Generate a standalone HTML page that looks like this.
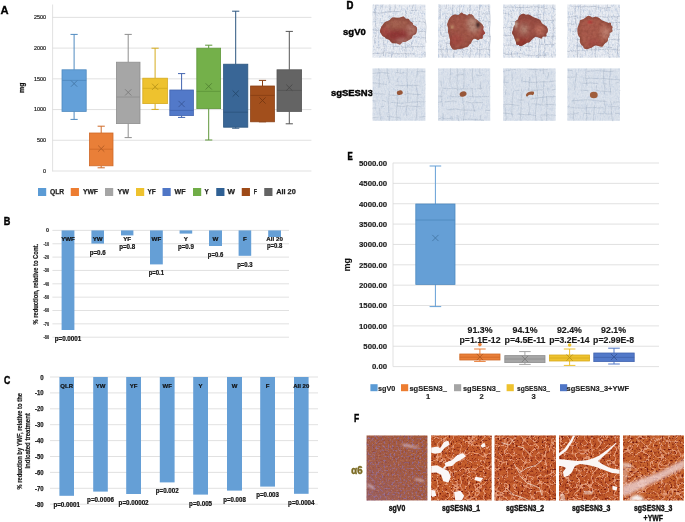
<!DOCTYPE html>
<html><head><meta charset="utf-8"><style>
html,body{margin:0;padding:0;background:#fff;}
body{width:685px;height:522px;overflow:hidden;}
svg{display:block;font-family:"Liberation Sans", sans-serif;opacity:0.999;}
</style></head><body>
<svg width="685" height="522" viewBox="0 0 685 522">
<rect width="685" height="522" fill="#fff"/>
<text x="0.40" y="14.41" font-size="11.2" text-anchor="start" font-weight="bold" fill="#000" stroke="#000" stroke-width="0.3" >A</text>
<line x1="52.60" y1="4.50" x2="52.60" y2="171.50" stroke="#d9d9d9" stroke-width="0.8" />
<line x1="52.60" y1="171.00" x2="311.40" y2="171.00" stroke="#d9d9d9" stroke-width="0.8" />
<text x="46.00" y="172.93" font-size="5.4" text-anchor="end" font-weight="normal" fill="#1a1a1a" stroke="#1a1a1a" stroke-width="0.2" >0</text>
<line x1="52.60" y1="140.28" x2="311.40" y2="140.28" stroke="#d9d9d9" stroke-width="0.8" />
<text x="46.00" y="142.21" font-size="5.4" text-anchor="end" font-weight="normal" fill="#1a1a1a" stroke="#1a1a1a" stroke-width="0.2" >500</text>
<line x1="52.60" y1="109.56" x2="311.40" y2="109.56" stroke="#d9d9d9" stroke-width="0.8" />
<text x="46.00" y="111.49" font-size="5.4" text-anchor="end" font-weight="normal" fill="#1a1a1a" stroke="#1a1a1a" stroke-width="0.2" >1000</text>
<line x1="52.60" y1="78.84" x2="311.40" y2="78.84" stroke="#d9d9d9" stroke-width="0.8" />
<text x="46.00" y="80.77" font-size="5.4" text-anchor="end" font-weight="normal" fill="#1a1a1a" stroke="#1a1a1a" stroke-width="0.2" >1500</text>
<line x1="52.60" y1="48.12" x2="311.40" y2="48.12" stroke="#d9d9d9" stroke-width="0.8" />
<text x="46.00" y="50.05" font-size="5.4" text-anchor="end" font-weight="normal" fill="#1a1a1a" stroke="#1a1a1a" stroke-width="0.2" >2000</text>
<line x1="52.60" y1="17.40" x2="311.40" y2="17.40" stroke="#d9d9d9" stroke-width="0.8" />
<text x="46.00" y="19.33" font-size="5.4" text-anchor="end" font-weight="normal" fill="#1a1a1a" stroke="#1a1a1a" stroke-width="0.2" >2500</text>
<text x="21.80" y="90.38" font-size="7.2" text-anchor="middle" font-weight="bold" fill="#111" textLength="10.4" lengthAdjust="spacingAndGlyphs" transform="rotate(-90 21.80 87.80)" stroke="#111" stroke-width="0.25" >mg</text>
<line x1="74.10" y1="34.40" x2="74.10" y2="69.80" stroke="#4f8ac0" stroke-width="1" />
<line x1="74.10" y1="111.40" x2="74.10" y2="119.40" stroke="#4f8ac0" stroke-width="1" />
<line x1="70.50" y1="34.40" x2="77.70" y2="34.40" stroke="#4f8ac0" stroke-width="1" />
<line x1="70.50" y1="119.40" x2="77.70" y2="119.40" stroke="#4f8ac0" stroke-width="1" />
<rect x="62.00" y="69.80" width="24.20" height="41.60" fill="#63a0d9" stroke="#4f8ac0" stroke-width="0.8"/>
<line x1="62.00" y1="80.40" x2="86.20" y2="80.40" stroke="#4f8ac0" stroke-width="0.9" />
<path d="M71.00 80.50L77.20 86.70M77.20 80.50L71.00 86.70" stroke="#4375a3" stroke-width="0.85" fill="none"/>
<line x1="101.20" y1="126.20" x2="101.20" y2="133.00" stroke="#cf6a28" stroke-width="1" />
<line x1="101.20" y1="165.80" x2="101.20" y2="167.80" stroke="#cf6a28" stroke-width="1" />
<line x1="97.60" y1="126.20" x2="104.80" y2="126.20" stroke="#cf6a28" stroke-width="1" />
<line x1="97.60" y1="167.80" x2="104.80" y2="167.80" stroke="#cf6a28" stroke-width="1" />
<rect x="89.40" y="133.00" width="23.60" height="32.80" fill="#e97f38" stroke="#cf6a28" stroke-width="0.8"/>
<line x1="89.40" y1="149.20" x2="113.00" y2="149.20" stroke="#cf6a28" stroke-width="0.9" />
<path d="M98.10 145.50L104.30 151.70M104.30 145.50L98.10 151.70" stroke="#af5a22" stroke-width="0.85" fill="none"/>
<line x1="128.20" y1="34.40" x2="128.20" y2="62.20" stroke="#8f8f8f" stroke-width="1" />
<line x1="128.20" y1="123.60" x2="128.20" y2="137.60" stroke="#8f8f8f" stroke-width="1" />
<line x1="124.60" y1="34.40" x2="131.80" y2="34.40" stroke="#8f8f8f" stroke-width="1" />
<line x1="124.60" y1="137.60" x2="131.80" y2="137.60" stroke="#8f8f8f" stroke-width="1" />
<rect x="116.40" y="62.20" width="23.60" height="61.40" fill="#a6a6a6" stroke="#8f8f8f" stroke-width="0.8"/>
<line x1="116.40" y1="97.00" x2="140.00" y2="97.00" stroke="#8f8f8f" stroke-width="0.9" />
<path d="M125.10 89.30L131.30 95.50M131.30 89.30L125.10 95.50" stroke="#797979" stroke-width="0.85" fill="none"/>
<line x1="155.10" y1="48.20" x2="155.10" y2="78.20" stroke="#d6ab1e" stroke-width="1" />
<line x1="155.10" y1="103.60" x2="155.10" y2="109.40" stroke="#d6ab1e" stroke-width="1" />
<line x1="151.50" y1="48.20" x2="158.70" y2="48.20" stroke="#d6ab1e" stroke-width="1" />
<line x1="151.50" y1="109.40" x2="158.70" y2="109.40" stroke="#d6ab1e" stroke-width="1" />
<rect x="142.80" y="78.20" width="24.60" height="25.40" fill="#eec22e" stroke="#d6ab1e" stroke-width="0.8"/>
<line x1="142.80" y1="88.30" x2="167.40" y2="88.30" stroke="#d6ab1e" stroke-width="0.9" />
<path d="M152.00 83.70L158.20 89.90M158.20 83.70L152.00 89.90" stroke="#b59119" stroke-width="0.85" fill="none"/>
<line x1="181.60" y1="73.60" x2="181.60" y2="90.00" stroke="#4365b0" stroke-width="1" />
<line x1="181.60" y1="115.60" x2="181.60" y2="117.40" stroke="#4365b0" stroke-width="1" />
<line x1="178.00" y1="73.60" x2="185.20" y2="73.60" stroke="#4365b0" stroke-width="1" />
<line x1="178.00" y1="117.40" x2="185.20" y2="117.40" stroke="#4365b0" stroke-width="1" />
<rect x="169.80" y="90.00" width="23.60" height="25.60" fill="#5279c9" stroke="#4365b0" stroke-width="0.8"/>
<line x1="169.80" y1="110.40" x2="193.40" y2="110.40" stroke="#4365b0" stroke-width="0.9" />
<path d="M178.50 100.90L184.70 107.10M184.70 100.90L178.50 107.10" stroke="#385595" stroke-width="0.85" fill="none"/>
<line x1="208.70" y1="45.20" x2="208.70" y2="48.20" stroke="#5f973a" stroke-width="1" />
<line x1="208.70" y1="108.60" x2="208.70" y2="140.00" stroke="#5f973a" stroke-width="1" />
<line x1="205.10" y1="45.20" x2="212.30" y2="45.20" stroke="#5f973a" stroke-width="1" />
<line x1="205.10" y1="140.00" x2="212.30" y2="140.00" stroke="#5f973a" stroke-width="1" />
<rect x="196.80" y="48.20" width="23.80" height="60.40" fill="#74b04a" stroke="#5f973a" stroke-width="0.8"/>
<line x1="196.80" y1="91.40" x2="220.60" y2="91.40" stroke="#5f973a" stroke-width="0.9" />
<path d="M205.60 83.30L211.80 89.50M211.80 83.30L205.60 89.50" stroke="#508031" stroke-width="0.85" fill="none"/>
<line x1="235.70" y1="11.20" x2="235.70" y2="64.20" stroke="#2c557f" stroke-width="1" />
<line x1="235.70" y1="127.20" x2="235.70" y2="128.20" stroke="#2c557f" stroke-width="1" />
<line x1="232.10" y1="11.20" x2="239.30" y2="11.20" stroke="#2c557f" stroke-width="1" />
<line x1="232.10" y1="128.20" x2="239.30" y2="128.20" stroke="#2c557f" stroke-width="1" />
<rect x="223.60" y="64.20" width="24.20" height="63.00" fill="#396696" stroke="#2c557f" stroke-width="0.8"/>
<line x1="223.60" y1="112.20" x2="247.80" y2="112.20" stroke="#2c557f" stroke-width="0.9" />
<path d="M232.60 90.50L238.80 96.70M238.80 90.50L232.60 96.70" stroke="#25486b" stroke-width="0.85" fill="none"/>
<line x1="262.50" y1="80.40" x2="262.50" y2="86.00" stroke="#8a4014" stroke-width="1" />
<line x1="262.50" y1="121.80" x2="262.50" y2="121.80" stroke="#8a4014" stroke-width="1" />
<line x1="258.90" y1="80.40" x2="266.10" y2="80.40" stroke="#8a4014" stroke-width="1" />
<line x1="258.90" y1="121.80" x2="266.10" y2="121.80" stroke="#8a4014" stroke-width="1" />
<rect x="250.60" y="86.00" width="23.80" height="35.80" fill="#a24f1c" stroke="#8a4014" stroke-width="0.8"/>
<line x1="250.60" y1="95.40" x2="274.40" y2="95.40" stroke="#8a4014" stroke-width="0.9" />
<path d="M259.40 97.40L265.60 103.60M265.60 97.40L259.40 103.60" stroke="#753611" stroke-width="0.85" fill="none"/>
<line x1="289.30" y1="31.40" x2="289.30" y2="69.80" stroke="#555555" stroke-width="1" />
<line x1="289.30" y1="111.40" x2="289.30" y2="123.80" stroke="#555555" stroke-width="1" />
<line x1="285.70" y1="31.40" x2="292.90" y2="31.40" stroke="#555555" stroke-width="1" />
<line x1="285.70" y1="123.80" x2="292.90" y2="123.80" stroke="#555555" stroke-width="1" />
<rect x="277.00" y="69.80" width="24.60" height="41.60" fill="#646464" stroke="#555555" stroke-width="0.8"/>
<line x1="277.00" y1="90.40" x2="301.60" y2="90.40" stroke="#555555" stroke-width="0.9" />
<path d="M286.20 84.50L292.40 90.70M292.40 84.50L286.20 90.70" stroke="#484848" stroke-width="0.85" fill="none"/>
<rect x="38.00" y="188.00" width="8.20" height="8.00" fill="#5b9bd5" />
<text x="50.00" y="194.42" font-size="7.6" text-anchor="start" font-weight="bold" fill="#222" textLength="14.25" lengthAdjust="spacingAndGlyphs" stroke="#222" stroke-width="0.25" >QLR</text>
<rect x="70.75" y="188.00" width="8.20" height="8.00" fill="#ed7d31" />
<text x="83.00" y="194.42" font-size="7.6" text-anchor="start" font-weight="bold" fill="#222" textLength="15" lengthAdjust="spacingAndGlyphs" stroke="#222" stroke-width="0.25" >YWF</text>
<rect x="105.00" y="188.00" width="8.20" height="8.00" fill="#a5a5a5" />
<text x="117.50" y="194.42" font-size="7.6" text-anchor="start" font-weight="bold" fill="#222" textLength="11.5" lengthAdjust="spacingAndGlyphs" stroke="#222" stroke-width="0.25" >YW</text>
<rect x="136.00" y="188.00" width="8.20" height="8.00" fill="#eec22e" />
<text x="147.50" y="194.42" font-size="7.6" text-anchor="start" font-weight="bold" fill="#222" textLength="8.25" lengthAdjust="spacingAndGlyphs" stroke="#222" stroke-width="0.25" >YF</text>
<rect x="162.50" y="188.00" width="8.20" height="8.00" fill="#4f76c6" />
<text x="174.50" y="194.42" font-size="7.6" text-anchor="start" font-weight="bold" fill="#222" textLength="11" lengthAdjust="spacingAndGlyphs" stroke="#222" stroke-width="0.25" >WF</text>
<rect x="193.00" y="188.00" width="8.20" height="8.00" fill="#70ad47" />
<text x="204.50" y="194.42" font-size="7.6" text-anchor="start" font-weight="bold" fill="#222" textLength="4.25" lengthAdjust="spacingAndGlyphs" stroke="#222" stroke-width="0.25" >Y</text>
<rect x="216.25" y="188.00" width="8.20" height="8.00" fill="#2f6094" />
<text x="227.50" y="194.42" font-size="7.6" text-anchor="start" font-weight="bold" fill="#222" textLength="7.5" lengthAdjust="spacingAndGlyphs" stroke="#222" stroke-width="0.25" >W</text>
<rect x="241.75" y="188.00" width="8.20" height="8.00" fill="#9e4a17" />
<text x="253.75" y="194.42" font-size="7.6" text-anchor="start" font-weight="bold" fill="#222" textLength="3.25" lengthAdjust="spacingAndGlyphs" stroke="#222" stroke-width="0.25" >F</text>
<rect x="264.25" y="188.00" width="8.20" height="8.00" fill="#636363" />
<text x="276.25" y="194.42" font-size="7.6" text-anchor="start" font-weight="bold" fill="#222" textLength="19.5" lengthAdjust="spacingAndGlyphs" stroke="#222" stroke-width="0.25" >All 20</text>
<text x="3.70" y="224.84" font-size="11.0" text-anchor="start" font-weight="bold" fill="#000" textLength="6.6" lengthAdjust="spacingAndGlyphs" stroke="#000" stroke-width="0.45" >B</text>
<line x1="52.40" y1="230.40" x2="289.00" y2="230.40" stroke="#d9d9d9" stroke-width="0.8" />
<text x="49.10" y="232.19" font-size="5.0" text-anchor="end" font-weight="bold" fill="#2a2a2a" textLength="3.0" lengthAdjust="spacingAndGlyphs" stroke="#2a2a2a" stroke-width="0.15" >0</text>
<line x1="52.40" y1="243.75" x2="289.00" y2="243.75" stroke="#d9d9d9" stroke-width="0.8" />
<text x="49.10" y="245.54" font-size="5.0" text-anchor="end" font-weight="bold" fill="#2a2a2a" textLength="5.6" lengthAdjust="spacingAndGlyphs" stroke="#2a2a2a" stroke-width="0.15" >-10</text>
<line x1="52.40" y1="257.10" x2="289.00" y2="257.10" stroke="#d9d9d9" stroke-width="0.8" />
<text x="49.10" y="258.89" font-size="5.0" text-anchor="end" font-weight="bold" fill="#2a2a2a" textLength="5.6" lengthAdjust="spacingAndGlyphs" stroke="#2a2a2a" stroke-width="0.15" >-20</text>
<line x1="52.40" y1="270.45" x2="289.00" y2="270.45" stroke="#d9d9d9" stroke-width="0.8" />
<text x="49.10" y="272.24" font-size="5.0" text-anchor="end" font-weight="bold" fill="#2a2a2a" textLength="5.6" lengthAdjust="spacingAndGlyphs" stroke="#2a2a2a" stroke-width="0.15" >-30</text>
<line x1="52.40" y1="283.80" x2="289.00" y2="283.80" stroke="#d9d9d9" stroke-width="0.8" />
<text x="49.10" y="285.59" font-size="5.0" text-anchor="end" font-weight="bold" fill="#2a2a2a" textLength="5.6" lengthAdjust="spacingAndGlyphs" stroke="#2a2a2a" stroke-width="0.15" >-40</text>
<line x1="52.40" y1="297.15" x2="289.00" y2="297.15" stroke="#d9d9d9" stroke-width="0.8" />
<text x="49.10" y="298.94" font-size="5.0" text-anchor="end" font-weight="bold" fill="#2a2a2a" textLength="5.6" lengthAdjust="spacingAndGlyphs" stroke="#2a2a2a" stroke-width="0.15" >-50</text>
<line x1="52.40" y1="310.50" x2="289.00" y2="310.50" stroke="#d9d9d9" stroke-width="0.8" />
<text x="49.10" y="312.29" font-size="5.0" text-anchor="end" font-weight="bold" fill="#2a2a2a" textLength="5.6" lengthAdjust="spacingAndGlyphs" stroke="#2a2a2a" stroke-width="0.15" >-60</text>
<line x1="52.40" y1="323.85" x2="289.00" y2="323.85" stroke="#d9d9d9" stroke-width="0.8" />
<text x="49.10" y="325.64" font-size="5.0" text-anchor="end" font-weight="bold" fill="#2a2a2a" textLength="5.6" lengthAdjust="spacingAndGlyphs" stroke="#2a2a2a" stroke-width="0.15" >-70</text>
<line x1="52.40" y1="337.20" x2="289.00" y2="337.20" stroke="#d9d9d9" stroke-width="0.8" />
<text x="49.10" y="338.99" font-size="5.0" text-anchor="end" font-weight="bold" fill="#2a2a2a" textLength="5.6" lengthAdjust="spacingAndGlyphs" stroke="#2a2a2a" stroke-width="0.15" >-80</text>
<text x="35.60" y="286.59" font-size="6.4" text-anchor="middle" font-weight="bold" fill="#1a1a1a" textLength="80.6" lengthAdjust="spacingAndGlyphs" transform="rotate(-90 35.60 284.30)" stroke="#1a1a1a" stroke-width="0.2" >% reduction, relative to Cont.</text>
<rect x="61.60" y="230.40" width="12.80" height="99.60" fill="#659fd6" />
<text x="68.00" y="241.42" font-size="6.2" text-anchor="middle" font-weight="bold" fill="#111" stroke="#111" stroke-width="0.2" >YWF</text>
<text x="68.00" y="340.89" font-size="6.4" text-anchor="middle" font-weight="bold" fill="#111" textLength="26.6" lengthAdjust="spacingAndGlyphs" stroke="#111" stroke-width="0.2" >p=0.0001</text>
<rect x="91.40" y="230.40" width="12.60" height="13.20" fill="#659fd6" />
<text x="97.70" y="241.42" font-size="6.2" text-anchor="middle" font-weight="bold" fill="#111" stroke="#111" stroke-width="0.2" >YW</text>
<text x="97.70" y="254.89" font-size="6.4" text-anchor="middle" font-weight="bold" fill="#111" textLength="16" lengthAdjust="spacingAndGlyphs" stroke="#111" stroke-width="0.2" >p=0.6</text>
<rect x="121.00" y="230.40" width="12.40" height="5.00" fill="#659fd6" />
<text x="127.20" y="241.42" font-size="6.2" text-anchor="middle" font-weight="bold" fill="#111" stroke="#111" stroke-width="0.2" >YF</text>
<text x="127.20" y="249.29" font-size="6.4" text-anchor="middle" font-weight="bold" fill="#111" textLength="16" lengthAdjust="spacingAndGlyphs" stroke="#111" stroke-width="0.2" >p=0.8</text>
<rect x="150.00" y="230.40" width="12.80" height="34.00" fill="#659fd6" />
<text x="156.40" y="241.42" font-size="6.2" text-anchor="middle" font-weight="bold" fill="#111" stroke="#111" stroke-width="0.2" >WF</text>
<text x="156.40" y="275.49" font-size="6.4" text-anchor="middle" font-weight="bold" fill="#111" textLength="15.4" lengthAdjust="spacingAndGlyphs" stroke="#111" stroke-width="0.2" >p=0.1</text>
<rect x="179.60" y="230.40" width="12.60" height="3.20" fill="#659fd6" />
<text x="185.90" y="241.42" font-size="6.2" text-anchor="middle" font-weight="bold" fill="#111" stroke="#111" stroke-width="0.2" >Y</text>
<text x="185.90" y="248.89" font-size="6.4" text-anchor="middle" font-weight="bold" fill="#111" textLength="16" lengthAdjust="spacingAndGlyphs" stroke="#111" stroke-width="0.2" >p=0.9</text>
<rect x="209.00" y="230.40" width="13.00" height="15.60" fill="#659fd6" />
<text x="215.50" y="241.42" font-size="6.2" text-anchor="middle" font-weight="bold" fill="#111" stroke="#111" stroke-width="0.2" >W</text>
<text x="215.50" y="257.29" font-size="6.4" text-anchor="middle" font-weight="bold" fill="#111" textLength="15.4" lengthAdjust="spacingAndGlyphs" stroke="#111" stroke-width="0.2" >p=0.6</text>
<rect x="238.60" y="230.40" width="12.60" height="25.40" fill="#659fd6" />
<text x="244.90" y="241.42" font-size="6.2" text-anchor="middle" font-weight="bold" fill="#111" stroke="#111" stroke-width="0.2" >F</text>
<text x="244.90" y="266.89" font-size="6.4" text-anchor="middle" font-weight="bold" fill="#111" textLength="15.4" lengthAdjust="spacingAndGlyphs" stroke="#111" stroke-width="0.2" >p=0.3</text>
<rect x="268.20" y="230.40" width="12.80" height="6.60" fill="#659fd6" />
<text x="274.60" y="241.42" font-size="6.2" text-anchor="middle" font-weight="bold" fill="#111" stroke="#111" stroke-width="0.2" >All 20</text>
<text x="274.60" y="248.49" font-size="6.4" text-anchor="middle" font-weight="bold" fill="#111" textLength="15.4" lengthAdjust="spacingAndGlyphs" stroke="#111" stroke-width="0.2" >p=0.8</text>
<text x="4.00" y="383.74" font-size="11.0" text-anchor="start" font-weight="bold" fill="#000" textLength="6.3" lengthAdjust="spacingAndGlyphs" stroke="#000" stroke-width="0.45" >C</text>
<line x1="50.00" y1="377.00" x2="318.00" y2="377.00" stroke="#d9d9d9" stroke-width="0.8" />
<text x="43.60" y="379.51" font-size="7.0" text-anchor="end" font-weight="bold" fill="#222" textLength="3.4" lengthAdjust="spacingAndGlyphs" stroke="#222" stroke-width="0.25" >0</text>
<line x1="50.00" y1="392.90" x2="318.00" y2="392.90" stroke="#d9d9d9" stroke-width="0.8" />
<text x="43.60" y="395.41" font-size="7.0" text-anchor="end" font-weight="bold" fill="#222" textLength="8.6" lengthAdjust="spacingAndGlyphs" stroke="#222" stroke-width="0.25" >-10</text>
<line x1="50.00" y1="408.80" x2="318.00" y2="408.80" stroke="#d9d9d9" stroke-width="0.8" />
<text x="43.60" y="411.31" font-size="7.0" text-anchor="end" font-weight="bold" fill="#222" textLength="8.6" lengthAdjust="spacingAndGlyphs" stroke="#222" stroke-width="0.25" >-20</text>
<line x1="50.00" y1="424.70" x2="318.00" y2="424.70" stroke="#d9d9d9" stroke-width="0.8" />
<text x="43.60" y="427.21" font-size="7.0" text-anchor="end" font-weight="bold" fill="#222" textLength="8.6" lengthAdjust="spacingAndGlyphs" stroke="#222" stroke-width="0.25" >-30</text>
<line x1="50.00" y1="440.60" x2="318.00" y2="440.60" stroke="#d9d9d9" stroke-width="0.8" />
<text x="43.60" y="443.11" font-size="7.0" text-anchor="end" font-weight="bold" fill="#222" textLength="8.6" lengthAdjust="spacingAndGlyphs" stroke="#222" stroke-width="0.25" >-40</text>
<line x1="50.00" y1="456.50" x2="318.00" y2="456.50" stroke="#d9d9d9" stroke-width="0.8" />
<text x="43.60" y="459.01" font-size="7.0" text-anchor="end" font-weight="bold" fill="#222" textLength="8.6" lengthAdjust="spacingAndGlyphs" stroke="#222" stroke-width="0.25" >-50</text>
<line x1="50.00" y1="472.40" x2="318.00" y2="472.40" stroke="#d9d9d9" stroke-width="0.8" />
<text x="43.60" y="474.91" font-size="7.0" text-anchor="end" font-weight="bold" fill="#222" textLength="8.6" lengthAdjust="spacingAndGlyphs" stroke="#222" stroke-width="0.25" >-60</text>
<line x1="50.00" y1="488.30" x2="318.00" y2="488.30" stroke="#d9d9d9" stroke-width="0.8" />
<text x="43.60" y="490.81" font-size="7.0" text-anchor="end" font-weight="bold" fill="#222" textLength="8.6" lengthAdjust="spacingAndGlyphs" stroke="#222" stroke-width="0.25" >-70</text>
<line x1="50.00" y1="504.20" x2="318.00" y2="504.20" stroke="#d9d9d9" stroke-width="0.8" />
<text x="43.60" y="506.71" font-size="7.0" text-anchor="end" font-weight="bold" fill="#222" textLength="8.6" lengthAdjust="spacingAndGlyphs" stroke="#222" stroke-width="0.25" >-80</text>
<text x="19.50" y="443.59" font-size="6.4" text-anchor="middle" font-weight="bold" fill="#1a1a1a" textLength="96.5" lengthAdjust="spacingAndGlyphs" transform="rotate(-90 19.50 441.30)" stroke="#1a1a1a" stroke-width="0.2" >% reduction by YWF, relative to the</text>
<text x="27.60" y="443.19" font-size="6.4" text-anchor="middle" font-weight="bold" fill="#1a1a1a" textLength="55.4" lengthAdjust="spacingAndGlyphs" transform="rotate(-90 27.60 440.90)" stroke="#1a1a1a" stroke-width="0.2" >indicated treatment</text>
<rect x="59.40" y="377.00" width="14.60" height="118.80" fill="#659fd6" />
<text x="66.70" y="388.15" font-size="6.0" text-anchor="middle" font-weight="bold" fill="#111" stroke="#111" stroke-width="0.2" >QLR</text>
<text x="66.70" y="506.89" font-size="6.4" text-anchor="middle" font-weight="bold" fill="#111" textLength="26.6" lengthAdjust="spacingAndGlyphs" stroke="#111" stroke-width="0.2" >p=0.0001</text>
<rect x="93.20" y="377.00" width="14.60" height="114.60" fill="#659fd6" />
<text x="100.50" y="388.15" font-size="6.0" text-anchor="middle" font-weight="bold" fill="#111" stroke="#111" stroke-width="0.2" >YW</text>
<text x="100.50" y="502.49" font-size="6.4" text-anchor="middle" font-weight="bold" fill="#111" textLength="26.8" lengthAdjust="spacingAndGlyphs" stroke="#111" stroke-width="0.2" >p=0.0006</text>
<rect x="126.20" y="377.00" width="14.80" height="117.00" fill="#659fd6" />
<text x="133.60" y="388.15" font-size="6.0" text-anchor="middle" font-weight="bold" fill="#111" stroke="#111" stroke-width="0.2" >YF</text>
<text x="133.60" y="505.49" font-size="6.4" text-anchor="middle" font-weight="bold" fill="#111" textLength="30" lengthAdjust="spacingAndGlyphs" stroke="#111" stroke-width="0.2" >p=0.00002</text>
<rect x="159.80" y="377.00" width="14.80" height="105.40" fill="#659fd6" />
<text x="167.20" y="388.15" font-size="6.0" text-anchor="middle" font-weight="bold" fill="#111" stroke="#111" stroke-width="0.2" >WF</text>
<text x="167.20" y="493.09" font-size="6.4" text-anchor="middle" font-weight="bold" fill="#111" textLength="22.8" lengthAdjust="spacingAndGlyphs" stroke="#111" stroke-width="0.2" >p=0.002</text>
<rect x="193.20" y="377.00" width="14.80" height="117.60" fill="#659fd6" />
<text x="200.60" y="388.15" font-size="6.0" text-anchor="middle" font-weight="bold" fill="#111" stroke="#111" stroke-width="0.2" >Y</text>
<text x="200.60" y="505.89" font-size="6.4" text-anchor="middle" font-weight="bold" fill="#111" textLength="23" lengthAdjust="spacingAndGlyphs" stroke="#111" stroke-width="0.2" >p=0.005</text>
<rect x="227.00" y="377.00" width="15.00" height="113.60" fill="#659fd6" />
<text x="234.50" y="388.15" font-size="6.0" text-anchor="middle" font-weight="bold" fill="#111" stroke="#111" stroke-width="0.2" >W</text>
<text x="234.50" y="501.69" font-size="6.4" text-anchor="middle" font-weight="bold" fill="#111" textLength="22.6" lengthAdjust="spacingAndGlyphs" stroke="#111" stroke-width="0.2" >p=0.008</text>
<rect x="260.20" y="377.00" width="14.80" height="109.60" fill="#659fd6" />
<text x="267.60" y="388.15" font-size="6.0" text-anchor="middle" font-weight="bold" fill="#111" stroke="#111" stroke-width="0.2" >F</text>
<text x="267.60" y="497.29" font-size="6.4" text-anchor="middle" font-weight="bold" fill="#111" textLength="22.8" lengthAdjust="spacingAndGlyphs" stroke="#111" stroke-width="0.2" >p=0.003</text>
<rect x="294.00" y="377.00" width="14.60" height="116.80" fill="#659fd6" />
<text x="301.30" y="388.15" font-size="6.0" text-anchor="middle" font-weight="bold" fill="#111" stroke="#111" stroke-width="0.2" >All 20</text>
<text x="301.30" y="504.69" font-size="6.4" text-anchor="middle" font-weight="bold" fill="#111" textLength="26.4" lengthAdjust="spacingAndGlyphs" stroke="#111" stroke-width="0.2" >p=0.0004</text>
<text x="346.50" y="8.61" font-size="10.5" text-anchor="start" font-weight="bold" fill="#000" textLength="6.9" lengthAdjust="spacingAndGlyphs" stroke="#000" stroke-width="0.55" >D</text>
<text x="343.10" y="34.70" font-size="9.5" text-anchor="start" font-weight="bold" fill="#000" textLength="22.7" lengthAdjust="spacingAndGlyphs" stroke="#000" stroke-width="0.4" >sgV0</text>
<text x="330.90" y="96.18" font-size="8.6" text-anchor="start" font-weight="bold" fill="#000" textLength="42" lengthAdjust="spacingAndGlyphs" stroke="#000" stroke-width="0.4" >sgSESN3</text>
<defs>
<pattern id="grid" width="10.8" height="10.8" patternUnits="userSpaceOnUse">
<path d="M0 0.4H10.8M0.4 0V10.8" stroke="#b9c6da" stroke-width="0.7" fill="none"/>
</pattern>
<filter id="noise" x="0" y="0" width="100%" height="100%" color-interpolation-filters="sRGB">
<feTurbulence type="fractalNoise" baseFrequency="0.9" numOctaves="2" seed="3" result="t"/>
<feColorMatrix type="matrix" values="0 0 0 0 0.55  0 0 0 0 0.6  0 0 0 0 0.7  0 0 0 -1.4 0.9" />
<feComposite in2="SourceGraphic" operator="in"/>
</filter>
<radialGradient id="tum" cx="0.45" cy="0.45" r="0.6">
<stop offset="0" stop-color="#9b3d36"/><stop offset="0.7" stop-color="#a7504a"/><stop offset="1" stop-color="#b8716b"/>
</radialGradient>
<radialGradient id="tum2" cx="0.35" cy="0.5" r="0.7">
<stop offset="0" stop-color="#a2443a"/><stop offset="0.6" stop-color="#aa5a50"/><stop offset="1" stop-color="#c09088"/>
</radialGradient>
</defs>
<rect x="372.60" y="4.60" width="52.80" height="53.00" fill="#e2e6ed" />
<rect x="372.60" y="4.60" width="52.80" height="53.00" fill="url(#grid)" opacity="0.15"/>
<path d="M375.9 4.6L375.1 11.1M375.1 11.1L374.9 14.4M374.9 14.4L375.2 19.0M375.2 19.0L375.8 26.2M375.8 26.2L376.1 34.2M376.1 34.2L375.1 37.7M375.1 37.7L374.5 43.9M382.0 4.6L382.0 8.0M382.8 31.2L382.2 35.0M383.3 40.3L384.3 48.3M384.3 48.3L383.4 56.1M389.9 4.6L389.9 8.3M389.9 8.3L388.7 12.1M389.7 15.6L390.3 19.9M391.3 23.3L392.0 29.4M391.5 34.3L391.3 42.0M392.4 51.1L391.3 57.6M395.4 4.6L394.7 12.1M394.2 20.7L393.4 24.0M392.9 27.1L392.9 35.9M392.9 35.9L392.9 39.3M392.9 42.5L393.5 50.4M406.1 10.8L405.7 18.6M405.7 18.6L405.0 23.8M405.0 23.8L404.8 31.5M404.8 31.5L404.4 37.3M404.4 37.3L405.5 45.1M405.5 45.1L404.9 49.9M404.9 49.9L406.0 53.2M406.0 53.2L406.2 57.6M413.3 4.6L412.4 8.9M412.2 17.8L412.0 22.1M412.0 22.1L413.1 25.7M413.1 25.7L412.4 34.4M411.9 41.7L411.1 47.8M425.1 19.3L426.1 26.7M426.1 26.7L425.5 34.6M425.5 34.6L425.5 39.6M425.5 39.6L426.0 42.8M425.1 51.7L425.2 57.1M372.6 12.1L378.2 13.2M378.2 13.2L386.0 12.3M386.0 12.3L392.5 11.7M392.5 11.7L399.5 11.4M409.5 10.8L417.3 10.2M424.9 9.6L425.4 9.6M377.9 23.0L383.7 23.0M389.4 22.0L393.7 23.1M398.9 22.4L404.9 21.5M411.0 21.5L417.9 21.4M417.9 21.4L423.4 21.9M423.4 21.9L425.4 23.1M372.6 29.7L377.1 30.4M377.1 30.4L381.6 30.2M400.7 29.5L408.7 29.6M408.7 29.6L412.6 30.6M418.5 31.4L425.4 31.3M377.0 38.0L384.4 38.1M384.4 38.1L390.3 37.1M390.3 37.1L394.7 38.1M394.7 38.1L399.3 37.4M399.3 37.4L407.5 36.8M407.5 36.8L415.7 36.9M415.7 36.9L421.2 37.7M421.2 37.7L425.4 37.8M376.2 47.9L380.0 47.8M393.6 46.3L402.4 47.0M402.4 47.0L406.5 47.2M406.5 47.2L415.3 46.5M415.3 46.5L419.5 46.7M419.5 46.7L425.4 46.1M372.6 53.6L379.0 53.4M379.0 53.4L385.0 52.8M385.0 52.8L390.1 53.1M390.1 53.1L396.1 53.9M396.1 53.9L400.0 53.8M400.0 53.8L406.5 53.5M406.5 53.5L415.4 54.1" stroke="#8894a8" stroke-width="0.55" fill="none" opacity="0.75"/>
<rect x="372.60" y="4.60" width="52.80" height="53.00" fill="#000" filter="url(#pnz2)" opacity="0.6"/>
<rect x="372.60" y="4.60" width="52.80" height="53.00" fill="#000" filter="url(#pnz)" opacity="0.7"/>
<rect x="438.00" y="4.60" width="52.20" height="53.00" fill="#e2e6ed" />
<rect x="438.00" y="4.60" width="52.20" height="53.00" fill="url(#grid)" opacity="0.15"/>
<path d="M439.9 4.6L440.1 10.2M440.1 10.2L439.8 18.9M440.8 24.7L440.5 29.6M440.5 29.6L441.1 35.9M440.7 44.2L441.8 49.6M441.8 49.6L442.4 57.6M446.6 4.6L445.8 9.0M446.2 16.4L445.2 23.0M445.2 23.0L445.2 31.0M446.1 42.1L446.9 47.4M446.9 47.4L447.3 54.4M447.3 54.4L446.1 57.6M453.0 4.6L452.5 10.1M452.5 10.1L452.3 14.5M453.4 23.1L453.4 27.9M454.0 34.3L452.9 42.9M453.6 47.0L453.9 52.1M453.9 52.1L453.6 57.6M460.1 4.6L459.2 11.4M459.2 11.4L460.0 14.9M460.0 14.9L460.4 20.8M459.9 28.7L460.9 34.4M460.9 34.4L461.5 40.9M462.1 45.2L462.4 53.3M462.1 56.4L462.6 57.6M470.0 4.6L469.5 13.5M469.5 13.5L468.6 22.0M468.6 22.0L469.7 26.3M469.7 26.3L470.3 34.2M470.3 34.2L469.5 39.2M469.5 39.2L470.5 43.6M470.4 47.6L470.7 52.2M470.7 52.2L469.6 57.6M479.5 4.6L479.5 11.4M479.5 11.4L479.0 15.1M479.0 15.1L479.7 22.5M479.7 22.5L480.1 26.9M480.1 26.9L481.0 34.4M479.8 43.2L479.7 52.2M479.7 52.2L479.4 57.6M488.3 4.6L489.1 10.2M489.1 10.2L489.9 15.1M489.9 15.1L490.1 22.8M490.1 22.8L489.2 30.8M489.2 30.8L490.3 38.9M490.3 38.9L489.9 42.5M489.9 42.5L489.2 47.1M489.2 47.1L489.5 51.8M489.5 51.8L489.6 57.6M446.6 13.7L450.0 14.4M450.0 14.4L454.5 14.5M454.5 14.5L463.3 14.6M463.3 14.6L471.9 15.0M481.8 13.9L487.7 13.9M446.9 21.9L453.4 21.1M453.4 21.1L459.8 21.8M462.8 21.0L468.2 20.8M468.2 20.8L473.5 21.0M473.5 21.0L482.1 20.7M482.1 20.7L490.2 21.9M444.6 32.2L451.5 32.1M451.5 32.1L460.4 31.8M460.4 31.8L465.9 30.8M473.6 31.4L480.3 30.3M480.3 30.3L485.4 29.6M442.2 36.3L449.7 35.9M449.7 35.9L454.9 36.1M454.9 36.1L459.2 36.0M459.2 36.0L463.0 35.6M463.0 35.6L468.0 35.5M474.0 35.9L477.2 36.7M477.2 36.7L485.2 35.8M485.2 35.8L490.1 36.1M490.1 36.1L490.2 37.1M446.9 43.4L455.4 42.9M455.4 42.9L461.5 42.2M472.2 42.2L478.5 41.2M438.0 49.3L442.1 49.6M442.1 49.6L447.0 49.0M447.0 49.0L451.3 49.5M451.3 49.5L457.4 49.7M457.4 49.7L463.7 50.2M463.7 50.2L468.5 49.5M472.8 48.7L476.7 49.2M476.7 49.2L479.7 49.8M479.7 49.8L484.6 48.8M484.6 48.8L490.2 49.9" stroke="#8894a8" stroke-width="0.55" fill="none" opacity="0.75"/>
<rect x="438.00" y="4.60" width="52.20" height="53.00" fill="#000" filter="url(#pnz2)" opacity="0.6"/>
<rect x="438.00" y="4.60" width="52.20" height="53.00" fill="#000" filter="url(#pnz)" opacity="0.7"/>
<rect x="503.20" y="4.60" width="52.40" height="53.00" fill="#e2e6ed" />
<rect x="503.20" y="4.60" width="52.40" height="53.00" fill="url(#grid)" opacity="0.15"/>
<path d="M511.5 11.4L512.1 17.3M511.4 21.3L511.4 25.9M511.4 25.9L510.4 33.5M510.4 33.5L510.7 41.1M510.7 41.1L511.0 45.0M511.1 51.9L512.2 57.0M512.2 57.0L512.0 57.6M519.7 4.6L520.1 12.6M520.1 12.6L520.0 16.4M520.0 16.4L519.7 21.0M519.7 21.0L520.5 26.3M519.8 34.1L520.9 38.0M521.0 44.2L520.3 51.7M519.1 55.9L519.8 57.6M528.9 10.0L529.1 14.6M529.1 14.6L529.6 19.2M529.6 19.2L529.5 26.6M529.5 26.6L528.7 34.9M528.7 34.9L528.5 42.9M528.5 42.9L529.1 51.2M538.8 4.6L538.0 13.0M538.0 13.0L538.5 21.2M538.6 26.4L539.0 34.2M539.0 34.2L539.6 42.5M539.6 42.5L539.2 45.5M539.2 45.5L538.3 54.3M538.3 54.3L539.0 57.4M539.0 57.4L537.9 57.6M544.4 4.6L543.9 12.4M543.9 12.4L543.4 20.3M543.4 20.3L544.6 25.7M544.4 30.5L545.2 35.3M545.2 35.3L544.5 40.9M544.5 40.9L544.9 48.9M544.9 48.9L544.0 57.0M544.0 57.0L544.8 57.6M553.0 4.6L552.0 9.1M552.9 15.9L553.1 21.4M553.1 21.4L553.4 30.4M553.4 30.4L552.9 35.2M552.9 35.2L552.4 38.4M552.4 38.4L551.9 46.9M551.4 54.4L552.3 57.6M503.2 7.3L509.6 7.3M509.6 7.3L512.8 7.2M512.8 7.2L516.0 7.4M516.0 7.4L524.6 7.7M524.6 7.7L531.1 6.9M531.1 6.9L536.9 6.6M536.9 6.6L541.8 7.6M541.8 7.6L547.7 8.8M553.2 8.4L555.6 9.4M503.2 13.1L507.5 13.8M507.5 13.8L510.9 15.0M518.9 13.8L522.7 14.9M522.7 14.9L525.8 15.6M533.7 15.6L541.3 14.5M554.1 15.5L555.6 14.3M510.4 21.6L518.3 20.9M518.3 20.9L525.1 21.4M540.1 19.8L543.9 20.8M543.9 20.8L551.0 20.6M551.0 20.6L555.6 20.0M503.2 27.7L508.0 27.7M508.0 27.7L516.2 27.4M516.2 27.4L524.8 28.0M524.8 28.0L532.9 27.8M532.9 27.8L540.9 27.3M554.4 28.5L555.6 28.1M503.2 35.3L511.4 35.8M520.3 36.4L526.0 35.4M526.0 35.4L530.1 36.0M530.1 36.0L538.2 35.8M543.3 36.0L551.2 36.7M551.2 36.7L555.6 36.2M503.2 44.5L507.3 45.2M507.3 45.2L516.0 45.2M516.0 45.2L522.3 46.1M522.3 46.1L527.5 46.3M527.5 46.3L532.6 46.2M540.6 44.6L544.7 44.7M544.7 44.7L548.7 44.3M548.7 44.3L554.0 44.5M554.0 44.5L555.6 43.7M503.2 53.2L506.4 54.3M506.4 54.3L512.2 54.0M512.2 54.0L516.0 53.1M516.0 53.1L522.8 54.2M522.8 54.2L529.0 55.4M529.0 55.4L535.3 55.7M535.3 55.7L538.9 55.7M538.9 55.7L546.5 55.3M555.3 55.7L555.6 54.6" stroke="#8894a8" stroke-width="0.55" fill="none" opacity="0.75"/>
<rect x="503.20" y="4.60" width="52.40" height="53.00" fill="#000" filter="url(#pnz2)" opacity="0.6"/>
<rect x="503.20" y="4.60" width="52.40" height="53.00" fill="#000" filter="url(#pnz)" opacity="0.7"/>
<rect x="567.40" y="4.60" width="52.60" height="53.00" fill="#e2e6ed" />
<rect x="567.40" y="4.60" width="52.60" height="53.00" fill="url(#grid)" opacity="0.15"/>
<path d="M575.0 4.6L575.2 13.0M575.2 13.0L575.6 19.5M575.6 19.5L576.0 24.0M576.0 24.0L577.0 30.4M577.5 36.8L577.5 41.1M577.5 41.1L577.1 49.6M577.1 49.6L577.5 54.8M577.5 54.8L577.5 57.6M580.7 4.6L580.7 11.3M580.7 11.3L580.0 19.8M582.1 41.5L581.3 47.7M580.7 53.5L580.2 57.6M589.4 9.8L590.4 13.7M590.4 13.7L590.5 20.1M591.6 25.6L591.6 33.3M592.3 36.5L592.6 41.7M591.8 47.4L591.2 51.4M591.4 56.7L591.1 57.6M596.2 4.6L595.9 11.4M596.5 21.6L595.6 26.9M595.6 26.9L596.6 34.4M596.6 34.4L595.7 39.6M595.7 39.6L595.7 46.8M595.7 46.8L595.1 52.9M595.1 52.9L595.8 57.6M607.5 4.6L607.0 11.1M608.0 14.6L608.8 21.0M608.8 21.0L609.9 27.6M609.9 27.6L610.0 31.7M610.0 31.7L609.1 39.2M609.1 39.2L607.9 46.8M607.9 46.8L609.0 54.9M609.0 54.9L609.5 57.6M617.5 16.2L616.7 23.5M616.7 23.5L617.4 28.2M618.5 32.6L618.5 38.0M618.5 38.0L617.9 44.0M617.9 44.0L617.6 52.0M617.6 52.0L617.0 55.8M617.0 55.8L616.9 57.6M571.8 6.8L580.3 6.7M580.3 6.7L587.9 6.8M587.9 6.8L593.9 6.4M593.9 6.4L599.9 7.6M599.9 7.6L603.4 8.4M603.4 8.4L610.8 7.4M619.4 7.5L620.0 7.5M567.4 17.3L574.0 16.5M574.0 16.5L577.4 17.5M577.4 17.5L585.1 16.7M585.1 16.7L592.8 17.0M592.8 17.0L598.8 16.5M598.8 16.5L607.7 17.4M607.7 17.4L611.8 16.4M611.8 16.4L617.7 17.0M617.7 17.0L620.0 15.9M567.4 23.6L575.4 24.5M575.4 24.5L581.6 23.3M581.6 23.3L589.1 22.2M589.1 22.2L593.0 22.2M593.0 22.2L598.8 23.4M598.8 23.4L604.5 23.6M604.5 23.6L613.0 22.8M613.0 22.8L620.0 22.7M572.0 31.5L579.7 30.9M579.7 30.9L585.3 31.3M590.0 30.9L598.6 30.2M605.7 30.8L612.2 30.0M615.8 28.8L619.0 29.8M619.0 29.8L620.0 29.2M576.3 39.5L584.3 39.4M584.3 39.4L592.8 38.7M592.8 38.7L596.1 37.5M596.1 37.5L603.6 38.2M609.7 39.2L618.3 39.8M618.3 39.8L620.0 39.8M575.3 45.8L582.8 46.5M582.8 46.5L590.2 47.0M595.3 47.8L598.6 47.9M598.6 47.9L603.8 46.9M603.8 46.9L612.1 47.6M567.4 51.5L575.9 50.7M575.9 50.7L584.0 50.7M584.0 50.7L592.2 49.8M592.2 49.8L600.1 49.5M600.1 49.5L608.6 49.0M608.6 49.0L614.3 49.4M614.3 49.4L620.0 50.0" stroke="#8894a8" stroke-width="0.55" fill="none" opacity="0.75"/>
<rect x="567.40" y="4.60" width="52.60" height="53.00" fill="#000" filter="url(#pnz2)" opacity="0.6"/>
<rect x="567.40" y="4.60" width="52.60" height="53.00" fill="#000" filter="url(#pnz)" opacity="0.7"/>
<rect x="372.60" y="68.40" width="52.80" height="52.40" fill="#d8dfe9" />
<rect x="372.60" y="68.40" width="52.80" height="52.40" fill="url(#grid)" opacity="0.15"/>
<path d="M378.6 68.4L379.6 75.3M379.6 75.3L379.2 80.4M379.2 80.4L379.8 87.7M379.6 107.8L379.9 112.5M379.9 112.5L380.4 117.4M380.4 117.4L381.1 120.8M387.0 68.4L387.6 75.8M387.6 75.8L388.6 78.9M388.6 78.9L389.4 83.1M389.5 91.3L388.8 97.4M388.8 97.4L388.5 105.9M388.5 105.9L388.9 112.4M388.9 112.4L389.1 115.8M389.1 115.8L389.4 120.8M397.3 68.4L397.6 73.1M397.5 77.8L397.6 82.2M397.5 88.9L397.4 97.7M397.4 97.7L397.5 103.2M397.5 103.2L396.5 109.3M396.5 109.3L396.6 113.0M396.6 113.0L397.0 119.2M397.0 119.2L396.8 120.8M407.1 68.4L407.3 71.8M407.3 71.8L406.9 77.5M406.9 77.5L407.7 83.9M407.7 83.9L407.2 89.6M407.2 89.6L407.8 93.5M407.8 93.5L407.6 102.2M407.0 105.4L405.9 111.8M405.9 111.8L406.7 116.1M417.7 68.4L417.2 73.9M417.2 73.9L416.6 77.5M415.8 84.6L416.7 90.4M416.7 90.4L417.7 94.0M417.7 94.0L416.9 100.4M416.9 100.4L417.6 103.7M417.6 103.7L416.7 109.2M416.7 109.2L416.6 115.1M416.6 115.1L416.0 120.4M372.6 73.5L381.4 72.3M381.4 72.3L389.4 73.4M396.0 72.3L400.8 73.3M400.8 73.3L404.8 72.3M416.8 71.7L423.4 71.7M423.4 71.7L425.4 71.8M372.6 82.9L379.5 83.5M379.5 83.5L386.6 84.5M395.0 85.1L402.1 85.4M402.1 85.4L405.6 85.4M405.6 85.4L413.4 85.4M413.4 85.4L419.7 85.4M424.9 85.4L425.4 84.3M372.6 92.9L375.7 93.5M375.7 93.5L378.8 94.0M378.8 94.0L385.3 94.1M390.1 95.2L398.5 95.4M404.1 94.7L407.4 93.6M407.4 93.6L414.5 94.3M414.5 94.3L421.9 94.7M425.4 93.6L425.4 93.7M372.6 100.6L377.6 101.3M382.3 100.3L386.2 101.5M390.6 102.4L397.5 103.1M397.5 103.1L404.1 103.1M404.1 103.1L411.4 102.2M411.4 102.2L420.0 101.6M420.0 101.6L424.9 102.0M424.9 102.0L425.4 101.4M372.6 108.3L376.4 107.8M380.7 106.8L384.1 106.5M396.7 105.8L402.5 106.7M402.5 106.7L407.1 105.8M407.1 105.8L412.6 106.3M412.6 106.3L421.1 106.8M372.6 117.9L378.7 117.2M387.0 116.5L390.6 116.7M390.6 116.7L396.9 117.5M396.9 117.5L400.2 117.9M419.8 117.0L424.0 116.7M424.0 116.7L425.4 116.6" stroke="#9aa8be" stroke-width="0.55" fill="none" opacity="0.75"/>
<rect x="372.60" y="68.40" width="52.80" height="52.40" fill="#000" filter="url(#pnz2)" opacity="0.3"/>
<rect x="372.60" y="68.40" width="52.80" height="52.40" fill="#000" filter="url(#pnz)" opacity="0.3"/>
<rect x="438.00" y="68.40" width="52.20" height="52.40" fill="#d8dfe9" />
<rect x="438.00" y="68.40" width="52.20" height="52.40" fill="url(#grid)" opacity="0.15"/>
<path d="M441.1 80.3L441.3 86.2M442.2 89.4L441.2 97.7M441.2 97.7L442.0 102.0M442.0 102.0L442.7 106.4M443.1 113.5L443.1 118.7M443.1 118.7L442.9 120.8M450.7 68.4L450.3 76.9M450.3 76.9L449.8 81.1M449.8 81.1L450.5 84.3M451.4 92.4L450.8 96.2M452.0 116.0L451.9 120.8M457.0 68.4L457.7 74.7M457.7 74.7L457.0 82.3M457.0 82.3L457.4 90.9M457.4 90.9L457.2 96.6M457.9 114.9L458.5 120.6M458.5 120.6L459.5 120.8M464.2 68.4L463.7 72.8M463.7 72.8L464.1 81.6M464.1 81.6L463.3 88.9M462.6 97.5L462.9 101.7M462.9 101.7L463.8 106.0M463.8 106.0L464.2 114.5M464.2 114.5L463.2 120.8M472.7 68.4L472.2 75.6M472.2 75.6L473.1 83.2M472.2 87.9L472.5 96.8M473.1 103.7L473.7 108.2M473.7 108.2L474.9 112.0M475.2 118.7L475.2 120.8M479.8 68.4L479.6 73.5M480.7 81.0L480.3 89.9M480.6 114.8L480.3 120.2M456.1 75.1L464.4 74.4M476.2 75.2L482.3 75.5M441.6 88.1L448.3 88.8M448.3 88.8L452.9 87.9M452.9 87.9L457.3 89.0M457.3 89.0L466.2 88.9M466.2 88.9L473.3 88.6M477.3 88.3L482.2 88.4M488.6 87.7L490.2 86.5M438.0 96.2L442.7 96.2M449.3 96.2L457.4 96.9M457.4 96.9L462.6 95.8M468.2 96.1L474.6 96.9M474.6 96.9L483.3 96.6M483.3 96.6L489.1 96.5M438.0 102.2L441.4 101.8M444.6 102.0L453.4 100.9M453.4 100.9L456.6 101.9M466.0 101.7L471.5 102.9M471.5 102.9L477.7 102.5M477.7 102.5L483.1 102.6M446.7 109.9L455.3 109.0M455.3 109.0L461.6 109.9M461.6 109.9L467.3 110.1M467.3 110.1L475.7 110.3M485.2 110.2L489.1 110.5M489.1 110.5L490.2 110.2M438.0 119.1L441.6 118.0M441.6 118.0L445.3 118.8M445.3 118.8L453.0 118.1M463.3 119.5L470.5 119.1M470.5 119.1L474.3 119.8M474.3 119.8L480.5 119.9M480.5 119.9L484.0 120.5" stroke="#9aa8be" stroke-width="0.55" fill="none" opacity="0.75"/>
<rect x="438.00" y="68.40" width="52.20" height="52.40" fill="#000" filter="url(#pnz2)" opacity="0.3"/>
<rect x="438.00" y="68.40" width="52.20" height="52.40" fill="#000" filter="url(#pnz)" opacity="0.3"/>
<rect x="503.20" y="68.40" width="52.40" height="52.40" fill="#d8dfe9" />
<rect x="503.20" y="68.40" width="52.40" height="52.40" fill="url(#grid)" opacity="0.15"/>
<path d="M505.1 75.3L504.4 83.0M504.4 83.0L505.3 86.2M506.1 89.4L505.4 94.8M505.1 103.5L504.9 106.8M504.9 106.8L506.0 114.6M506.0 114.6L506.2 119.3M506.2 119.3L505.6 120.8M512.2 73.4L512.2 80.8M513.3 91.3L512.5 98.6M512.5 98.6L512.0 105.8M512.0 105.8L511.9 113.1M511.9 113.1L512.6 116.4M522.3 77.1L521.7 81.6M521.3 88.6L522.0 92.0M522.0 92.0L521.5 96.0M521.5 96.0L521.1 103.1M521.1 103.1L521.0 111.0M521.0 111.0L520.3 118.0M520.3 118.0L520.3 120.8M529.6 77.0L529.3 85.9M529.3 85.9L528.3 90.3M528.2 102.5L529.2 106.8M529.2 106.8L529.3 111.0M529.3 111.0L528.1 115.5M535.0 68.4L536.0 75.7M536.0 75.7L536.4 79.0M536.4 79.0L536.9 87.9M536.9 87.9L537.5 96.2M537.5 96.2L536.4 102.8M536.4 102.8L536.0 107.7M536.0 107.7L535.3 113.9M535.3 113.9L535.7 119.0M535.7 119.0L535.9 120.8M543.1 68.4L543.6 74.0M544.2 80.5L543.6 86.9M543.6 86.9L543.7 94.2M543.7 94.2L542.6 99.0M542.6 99.0L541.6 104.7M541.2 116.7L542.0 120.8M548.8 72.0L547.8 78.3M548.0 87.6L547.4 91.0M546.6 96.0L546.8 101.7M546.8 101.7L547.0 108.0M547.0 108.0L546.6 113.1M546.6 113.1L546.6 120.8M503.2 71.3L508.4 70.4M508.4 70.4L516.0 69.3M528.1 69.3L536.9 69.6M536.9 69.6L541.0 70.3M541.0 70.3L547.8 69.3M503.2 82.2L508.4 82.4M522.6 81.4L527.8 81.8M527.8 81.8L531.1 82.5M531.1 82.5L534.5 82.4M534.5 82.4L540.8 81.9M540.8 81.9L548.7 81.8M548.7 81.8L555.6 81.0M514.8 90.7L519.2 90.2M527.7 90.1L536.1 90.3M536.1 90.3L539.7 89.9M539.7 89.9L543.2 89.7M551.5 90.1L555.6 89.2M517.4 100.0L525.3 100.1M530.3 99.2L535.1 98.3M535.1 98.3L541.0 97.4M541.0 97.4L548.6 96.6M548.6 96.6L552.4 96.6M552.4 96.6L555.6 96.6M503.2 104.7L507.8 104.2M507.8 104.2L511.3 104.5M511.3 104.5L519.5 105.6M531.0 103.9L537.9 104.1M537.9 104.1L541.2 105.2M541.2 105.2L548.2 104.4M548.2 104.4L555.6 104.8M503.2 113.1L510.3 113.7M510.3 113.7L513.7 114.5M517.8 113.8L525.8 114.9M525.8 114.9L530.6 114.5M530.6 114.5L535.7 115.6M541.0 115.0L546.8 114.8M546.8 114.8L553.9 115.1M553.9 115.1L555.6 115.5" stroke="#9aa8be" stroke-width="0.55" fill="none" opacity="0.75"/>
<rect x="503.20" y="68.40" width="52.40" height="52.40" fill="#000" filter="url(#pnz2)" opacity="0.3"/>
<rect x="503.20" y="68.40" width="52.40" height="52.40" fill="#000" filter="url(#pnz)" opacity="0.3"/>
<rect x="567.40" y="68.40" width="52.60" height="52.40" fill="#d8dfe9" />
<rect x="567.40" y="68.40" width="52.60" height="52.40" fill="url(#grid)" opacity="0.15"/>
<path d="M576.4 72.4L576.1 78.2M576.1 78.2L575.1 82.2M575.1 82.2L574.6 90.3M574.2 97.8L574.1 104.6M573.6 110.7L573.3 115.2M573.3 115.2L573.9 120.8M586.3 68.4L585.7 76.7M585.7 76.7L586.9 85.5M586.7 104.7L586.5 109.7M586.5 109.7L586.7 116.7M586.7 116.7L586.1 120.8M596.6 85.3L595.8 91.6M594.5 105.4L594.1 111.8M594.1 111.8L593.4 116.4M593.4 116.4L593.5 120.8M604.0 68.4L603.5 76.9M603.5 76.9L604.2 82.5M604.2 82.5L604.8 87.5M604.8 87.5L604.3 94.3M604.2 99.6L604.3 103.2M604.3 103.2L605.4 106.2M605.4 106.2L604.8 113.3M610.9 68.4L610.2 73.3M610.2 73.3L609.4 82.1M609.4 82.1L610.6 89.8M610.6 89.8L610.6 93.7M610.2 100.9L611.4 103.9M611.4 103.9L611.2 107.2M611.2 107.2L611.6 115.6M611.6 115.6L612.5 120.8M612.5 120.8L613.2 120.8M567.4 70.1L572.5 70.7M587.2 71.3L593.3 70.8M593.3 70.8L596.3 70.6M596.3 70.6L601.5 70.9M601.5 70.9L609.0 71.7M609.0 71.7L614.3 71.0M567.4 77.3L575.9 77.0M583.1 78.2L586.3 78.4M586.3 78.4L591.0 78.0M591.0 78.0L599.7 78.9M599.7 78.9L603.1 78.4M603.1 78.4L608.0 79.1M608.0 79.1L613.2 79.4M613.2 79.4L620.0 79.8M580.9 83.0L586.1 83.5M586.1 83.5L590.0 82.8M590.0 82.8L598.5 83.8M602.8 84.0L607.3 84.0M615.5 83.3L618.7 82.2M580.2 90.0L588.9 90.8M596.4 90.5L603.9 91.3M603.9 91.3L607.4 91.7M607.4 91.7L611.4 91.8M619.5 91.1L620.0 90.1M571.7 100.8L577.9 100.3M577.9 100.3L583.9 99.9M583.9 99.9L591.3 99.9M591.3 99.9L598.4 100.8M598.4 100.8L606.5 101.6M613.0 102.2L620.0 101.8M567.4 106.7L575.6 107.8M575.6 107.8L581.9 108.2M581.9 108.2L590.2 107.6M590.2 107.6L594.4 107.3M594.4 107.3L597.7 108.0M597.7 108.0L603.4 107.3M608.5 106.8L615.4 106.5M615.4 106.5L618.5 107.0M618.5 107.0L620.0 108.1M567.4 114.3L575.6 113.8M575.6 113.8L578.7 112.7M583.7 113.1L591.2 114.0M596.8 113.6L604.1 113.8M604.1 113.8L611.3 114.1M615.2 113.4L618.4 113.4M618.4 113.4L620.0 113.7" stroke="#9aa8be" stroke-width="0.55" fill="none" opacity="0.75"/>
<rect x="567.40" y="68.40" width="52.60" height="52.40" fill="#000" filter="url(#pnz2)" opacity="0.3"/>
<rect x="567.40" y="68.40" width="52.60" height="52.40" fill="#000" filter="url(#pnz)" opacity="0.3"/>
<defs>
<filter id="tb"><feGaussianBlur stdDeviation="2.2"/></filter>
<filter id="tb2"><feGaussianBlur stdDeviation="1"/></filter>
<filter id="tnz" x="0" y="0" width="100%" height="100%" color-interpolation-filters="sRGB">
<feTurbulence type="fractalNoise" baseFrequency="0.35" numOctaves="2" seed="9"/>
<feColorMatrix type="matrix" values="0 0 0 0 0.85  0 0 0 0 0.55  0 0 0 0 0.5  2.4 0 0 0 -1.1"/>
<feComposite in2="SourceGraphic" operator="in"/>
</filter>
<filter id="tnz2" x="0" y="0" width="100%" height="100%" color-interpolation-filters="sRGB">
<feTurbulence type="fractalNoise" baseFrequency="0.3" numOctaves="2" seed="21"/>
<feColorMatrix type="matrix" values="0 0 0 0 0.5  0 0 0 0 0.24  0 0 0 0 0.2  2.4 0 0 0 -1.05"/>
<feComposite in2="SourceGraphic" operator="in"/>
</filter>
<filter id="crk" x="0" y="0" width="100%" height="100%" color-interpolation-filters="sRGB">
<feTurbulence type="turbulence" baseFrequency="0.1" numOctaves="1" seed="31"/>
<feColorMatrix type="matrix" values="0 0 0 0 0.5  0 0 0 0 0.55  0 0 0 0 0.65  -14 0 0 0 1.0"/>
<feComposite in2="SourceGraphic" operator="in"/>
</filter>
<filter id="crk2" x="0" y="0" width="100%" height="100%" color-interpolation-filters="sRGB">
<feTurbulence type="turbulence" baseFrequency="0.07" numOctaves="1" seed="41"/>
<feColorMatrix type="matrix" values="0 0 0 0 0.55  0 0 0 0 0.62  0 0 0 0 0.75  -14 0 0 0 1.0"/>
<feComposite in2="SourceGraphic" operator="in"/>
</filter>
<filter id="pnz" x="0" y="0" width="100%" height="100%" color-interpolation-filters="sRGB">
<feTurbulence type="fractalNoise" baseFrequency="0.7" numOctaves="2" seed="3"/>
<feColorMatrix type="matrix" values="0 0 0 0 0.97  0 0 0 0 0.98  0 0 0 0 1  2.4 0 0 0 -1.0"/>
<feComposite in2="SourceGraphic" operator="in"/>
</filter>
<filter id="pnz2" x="0" y="0" width="100%" height="100%" color-interpolation-filters="sRGB">
<feTurbulence type="fractalNoise" baseFrequency="0.6 0.25" numOctaves="2" seed="8"/>
<feColorMatrix type="matrix" values="0 0 0 0 0.62  0 0 0 0 0.7  0 0 0 0 0.82  2.6 0 0 0 -1.2"/>
<feComposite in2="SourceGraphic" operator="in"/>
</filter>

<clipPath id="tc1"><path d="M380.74 28.85C380.95 28.10 380.93 27.59 381.23 27.00C381.53 26.40 382.15 25.84 382.57 25.27C382.98 24.70 383.27 24.12 383.72 23.57C384.17 23.02 384.52 22.40 385.25 21.98C385.98 21.56 387.29 21.44 388.10 21.06C388.91 20.68 389.40 20.26 390.12 19.68C390.84 19.10 391.47 17.90 392.42 17.57C393.38 17.23 394.71 17.62 395.87 17.66C397.02 17.70 398.12 17.99 399.36 17.82C400.61 17.64 402.30 16.49 403.34 16.61C404.38 16.73 404.70 18.11 405.58 18.52C406.46 18.93 407.84 18.60 408.61 19.07C409.39 19.54 409.57 20.69 410.23 21.35C410.89 22.00 412.05 22.43 412.56 23.02C413.07 23.61 412.77 24.36 413.29 24.88C413.81 25.41 415.07 25.71 415.67 26.18C416.27 26.65 416.64 27.18 416.87 27.70C417.09 28.23 417.06 28.67 417.03 29.33C416.99 30.00 416.86 30.92 416.64 31.70C416.43 32.49 416.40 33.38 415.73 34.06C415.07 34.74 413.31 35.05 412.64 35.76C411.96 36.48 412.41 37.61 411.69 38.37C410.97 39.13 409.44 39.72 408.31 40.31C407.18 40.91 405.93 41.63 404.92 41.95C403.91 42.27 403.07 41.82 402.25 42.24C401.43 42.65 400.99 44.30 400.00 44.47C399.01 44.64 397.55 43.47 396.31 43.25C395.06 43.03 393.45 43.38 392.52 43.14C391.60 42.90 391.30 42.33 390.77 41.80C390.23 41.27 390.05 40.46 389.32 39.96C388.59 39.47 387.18 39.33 386.39 38.84C385.60 38.34 385.25 37.52 384.58 37.01C383.90 36.49 382.88 36.23 382.35 35.72C381.82 35.22 381.79 34.68 381.40 33.97C381.01 33.26 380.12 32.32 380.01 31.47C379.90 30.61 380.54 29.59 380.74 28.85Z"/></clipPath>
<clipPath id="tc2"><path d="M447.13 24.62C447.11 23.54 447.68 22.81 447.98 21.91C448.29 21.01 448.57 20.00 448.97 19.22C449.36 18.43 449.82 17.79 450.36 17.18C450.90 16.57 451.51 16.02 452.22 15.57C452.94 15.12 453.70 14.56 454.67 14.49C455.64 14.41 457.20 15.21 458.04 15.11C458.89 15.01 459.17 14.31 459.77 13.88C460.37 13.45 460.98 12.49 461.66 12.52C462.35 12.56 463.14 13.72 463.87 14.07C464.59 14.43 465.41 14.45 466.00 14.65C466.59 14.86 466.89 15.42 467.40 15.29C467.91 15.16 468.62 14.01 469.04 13.88C469.47 13.75 469.61 14.45 469.96 14.52C470.31 14.58 470.60 14.06 471.15 14.27C471.70 14.48 472.67 15.13 473.26 15.78C473.85 16.42 474.10 17.45 474.71 18.13C475.33 18.81 476.22 19.24 476.95 19.85C477.67 20.45 478.23 21.11 479.06 21.78C479.89 22.46 481.17 23.09 481.91 23.91C482.65 24.72 483.28 25.67 483.49 26.66C483.70 27.66 482.91 28.80 483.18 29.86C483.45 30.92 485.14 32.12 485.10 33.03C485.05 33.95 483.31 34.49 482.91 35.36C482.51 36.22 483.12 37.64 482.69 38.22C482.27 38.79 481.04 38.58 480.37 38.83C479.70 39.07 479.09 39.47 478.67 39.68C478.25 39.89 478.49 40.23 477.86 40.09C477.22 39.95 475.70 38.86 474.87 38.81C474.04 38.76 473.43 39.26 472.88 39.79C472.32 40.32 471.87 41.39 471.54 41.99C471.20 42.59 471.14 43.07 470.87 43.40C470.61 43.73 470.51 43.42 469.97 43.97C469.43 44.52 468.47 46.11 467.63 46.70C466.79 47.29 465.99 47.16 464.92 47.50C463.85 47.85 462.41 48.53 461.24 48.78C460.06 49.03 458.96 48.85 457.87 49.01C456.79 49.16 455.65 49.73 454.73 49.69C453.80 49.64 452.95 49.28 452.32 48.75C451.69 48.22 451.33 47.35 450.93 46.52C450.53 45.69 450.03 44.77 449.92 43.77C449.80 42.77 450.27 41.46 450.22 40.50C450.18 39.54 449.84 38.95 449.63 38.01C449.42 37.07 449.23 35.88 448.95 34.85C448.68 33.83 448.11 32.93 447.98 31.86C447.84 30.78 448.26 29.59 448.12 28.38C447.98 27.17 447.15 25.70 447.13 24.62Z"/></clipPath>
<clipPath id="tc3"><path d="M513.69 26.81C514.02 25.90 514.74 25.29 515.00 24.39C515.25 23.50 514.74 22.25 515.21 21.44C515.68 20.63 517.18 20.37 517.81 19.52C518.45 18.67 518.67 17.06 519.03 16.36C519.38 15.66 519.64 15.63 519.96 15.32C520.29 15.02 520.44 14.79 520.97 14.53C521.51 14.28 522.37 13.79 523.20 13.81C524.02 13.83 524.99 14.49 525.93 14.64C526.88 14.79 527.91 14.47 528.89 14.72C529.87 14.97 530.92 15.65 531.82 16.13C532.71 16.61 533.39 17.19 534.27 17.60C535.14 18.00 536.09 18.16 537.08 18.59C538.07 19.02 539.42 19.45 540.20 20.17C540.97 20.89 541.11 22.15 541.73 22.93C542.35 23.70 543.10 24.20 543.92 24.83C544.75 25.47 546.05 25.97 546.69 26.71C547.34 27.46 547.63 28.45 547.79 29.32C547.95 30.19 547.89 31.17 547.64 31.94C547.39 32.71 546.52 33.21 546.29 33.95C546.05 34.68 546.84 35.90 546.24 36.36C545.63 36.82 543.37 36.37 542.64 36.73C541.90 37.08 542.54 38.38 541.83 38.48C541.13 38.59 539.44 37.68 538.41 37.38C537.39 37.07 536.46 36.53 535.67 36.64C534.89 36.75 534.33 37.52 533.70 38.05C533.07 38.59 532.60 39.16 531.89 39.87C531.17 40.58 530.27 41.84 529.44 42.31C528.61 42.79 527.86 42.32 526.90 42.73C525.94 43.13 524.74 44.17 523.67 44.73C522.60 45.29 521.34 46.07 520.50 46.11C519.67 46.14 519.35 45.20 518.67 44.91C517.99 44.63 516.91 45.01 516.42 44.40C515.94 43.78 516.08 42.17 515.77 41.22C515.46 40.28 514.92 39.63 514.56 38.73C514.20 37.84 514.03 36.81 513.61 35.86C513.18 34.91 512.13 34.02 512.02 33.02C511.92 32.02 512.71 30.89 512.99 29.85C513.27 28.82 513.35 27.72 513.69 26.81Z"/></clipPath>
<clipPath id="tc4"><path d="M577.41 28.83C577.53 27.81 577.99 26.78 578.33 25.80C578.67 24.82 579.14 23.90 579.45 22.95C579.76 22.01 579.58 20.76 580.19 20.13C580.80 19.49 582.21 19.58 583.11 19.13C584.01 18.69 584.72 18.00 585.61 17.44C586.50 16.87 587.30 15.75 588.44 15.75C589.59 15.74 591.23 17.23 592.48 17.41C593.73 17.59 594.85 16.73 595.96 16.83C597.06 16.93 598.14 17.45 599.11 18.02C600.08 18.59 600.95 19.71 601.78 20.25C602.61 20.78 603.30 20.88 604.10 21.24C604.89 21.59 605.87 22.08 606.57 22.37C607.27 22.65 607.59 22.83 608.30 22.92C609.00 23.02 610.30 22.53 610.78 22.91C611.25 23.29 610.87 24.54 611.17 25.20C611.47 25.87 612.42 26.27 612.57 26.90C612.72 27.53 612.09 28.31 612.08 28.97C612.07 29.63 612.57 30.40 612.51 30.89C612.45 31.37 612.20 31.54 611.71 31.89C611.22 32.23 609.95 32.33 609.56 32.96C609.17 33.59 609.60 34.80 609.36 35.64C609.13 36.49 608.45 37.16 608.17 38.04C607.89 38.93 608.10 40.17 607.70 40.96C607.30 41.75 606.40 42.20 605.78 42.80C605.17 43.39 604.59 43.90 604.01 44.54C603.43 45.19 603.11 46.39 602.30 46.68C601.49 46.97 600.22 46.52 599.17 46.27C598.11 46.03 596.90 45.24 595.95 45.22C595.00 45.21 594.32 45.71 593.48 46.18C592.63 46.65 591.66 47.68 590.90 48.06C590.14 48.45 589.59 48.32 588.91 48.50C588.24 48.68 587.61 49.17 586.83 49.15C586.05 49.14 584.92 48.93 584.26 48.41C583.60 47.88 583.44 46.70 582.88 46.00C582.33 45.31 581.44 44.99 580.94 44.25C580.43 43.51 580.02 42.63 579.85 41.57C579.68 40.51 580.21 38.97 579.91 37.87C579.61 36.77 578.46 35.99 578.07 34.99C577.69 34.00 577.73 32.95 577.61 31.92C577.50 30.90 577.29 29.85 577.41 28.83Z"/></clipPath>
</defs>
<g clip-path="url(#tc1)">
<rect x="376" y="14" width="45" height="33" fill="#985044"/>
<g filter="url(#tb)"><ellipse cx="396" cy="24" rx="12" ry="6" fill="#a26050"/><ellipse cx="398" cy="35" rx="12" ry="6" fill="#8e3636"/><ellipse cx="412" cy="30" rx="5" ry="7" fill="#b07468"/><ellipse cx="384" cy="31" rx="4" ry="5" fill="#a84a44"/><ellipse cx="404" cy="42" rx="8" ry="3" fill="#b88078"/></g>
<rect x="376" y="14" width="45" height="33" fill="#000" filter="url(#tnz2)" opacity="0.4"/>
<rect x="376" y="14" width="45" height="33" fill="#000" filter="url(#tnz)" opacity="0.15"/>
<path d="M380.74 28.85C380.95 28.10 380.93 27.59 381.23 27.00C381.53 26.40 382.15 25.84 382.57 25.27C382.98 24.70 383.27 24.12 383.72 23.57C384.17 23.02 384.52 22.40 385.25 21.98C385.98 21.56 387.29 21.44 388.10 21.06C388.91 20.68 389.40 20.26 390.12 19.68C390.84 19.10 391.47 17.90 392.42 17.57C393.38 17.23 394.71 17.62 395.87 17.66C397.02 17.70 398.12 17.99 399.36 17.82C400.61 17.64 402.30 16.49 403.34 16.61C404.38 16.73 404.70 18.11 405.58 18.52C406.46 18.93 407.84 18.60 408.61 19.07C409.39 19.54 409.57 20.69 410.23 21.35C410.89 22.00 412.05 22.43 412.56 23.02C413.07 23.61 412.77 24.36 413.29 24.88C413.81 25.41 415.07 25.71 415.67 26.18C416.27 26.65 416.64 27.18 416.87 27.70C417.09 28.23 417.06 28.67 417.03 29.33C416.99 30.00 416.86 30.92 416.64 31.70C416.43 32.49 416.40 33.38 415.73 34.06C415.07 34.74 413.31 35.05 412.64 35.76C411.96 36.48 412.41 37.61 411.69 38.37C410.97 39.13 409.44 39.72 408.31 40.31C407.18 40.91 405.93 41.63 404.92 41.95C403.91 42.27 403.07 41.82 402.25 42.24C401.43 42.65 400.99 44.30 400.00 44.47C399.01 44.64 397.55 43.47 396.31 43.25C395.06 43.03 393.45 43.38 392.52 43.14C391.60 42.90 391.30 42.33 390.77 41.80C390.23 41.27 390.05 40.46 389.32 39.96C388.59 39.47 387.18 39.33 386.39 38.84C385.60 38.34 385.25 37.52 384.58 37.01C383.90 36.49 382.88 36.23 382.35 35.72C381.82 35.22 381.79 34.68 381.40 33.97C381.01 33.26 380.12 32.32 380.01 31.47C379.90 30.61 380.54 29.59 380.74 28.85Z" fill="none" stroke="#6a3028" stroke-width="3" filter="url(#tb2)" opacity="0.3"/>
</g>
<g clip-path="url(#tc2)">
<rect x="445" y="10" width="45" height="42" fill="#a05648"/>
<g filter="url(#tb)"><ellipse cx="474" cy="24" rx="7" ry="9" fill="#b48676"/><ellipse cx="455" cy="40" rx="8" ry="6" fill="#a04840"/><ellipse cx="484" cy="32" rx="3" ry="6" fill="#b04848"/></g>
<g filter="url(#tb2)"><ellipse cx="478" cy="25" rx="1.8" ry="3" fill="#3a2222"/><circle cx="452" cy="27" r="1.2" fill="#e0d090"/></g>
<rect x="445" y="10" width="45" height="42" fill="#000" filter="url(#tnz2)" opacity="0.4"/>
<rect x="445" y="10" width="45" height="42" fill="#000" filter="url(#tnz)" opacity="0.15"/>
<path d="M447.13 24.62C447.11 23.54 447.68 22.81 447.98 21.91C448.29 21.01 448.57 20.00 448.97 19.22C449.36 18.43 449.82 17.79 450.36 17.18C450.90 16.57 451.51 16.02 452.22 15.57C452.94 15.12 453.70 14.56 454.67 14.49C455.64 14.41 457.20 15.21 458.04 15.11C458.89 15.01 459.17 14.31 459.77 13.88C460.37 13.45 460.98 12.49 461.66 12.52C462.35 12.56 463.14 13.72 463.87 14.07C464.59 14.43 465.41 14.45 466.00 14.65C466.59 14.86 466.89 15.42 467.40 15.29C467.91 15.16 468.62 14.01 469.04 13.88C469.47 13.75 469.61 14.45 469.96 14.52C470.31 14.58 470.60 14.06 471.15 14.27C471.70 14.48 472.67 15.13 473.26 15.78C473.85 16.42 474.10 17.45 474.71 18.13C475.33 18.81 476.22 19.24 476.95 19.85C477.67 20.45 478.23 21.11 479.06 21.78C479.89 22.46 481.17 23.09 481.91 23.91C482.65 24.72 483.28 25.67 483.49 26.66C483.70 27.66 482.91 28.80 483.18 29.86C483.45 30.92 485.14 32.12 485.10 33.03C485.05 33.95 483.31 34.49 482.91 35.36C482.51 36.22 483.12 37.64 482.69 38.22C482.27 38.79 481.04 38.58 480.37 38.83C479.70 39.07 479.09 39.47 478.67 39.68C478.25 39.89 478.49 40.23 477.86 40.09C477.22 39.95 475.70 38.86 474.87 38.81C474.04 38.76 473.43 39.26 472.88 39.79C472.32 40.32 471.87 41.39 471.54 41.99C471.20 42.59 471.14 43.07 470.87 43.40C470.61 43.73 470.51 43.42 469.97 43.97C469.43 44.52 468.47 46.11 467.63 46.70C466.79 47.29 465.99 47.16 464.92 47.50C463.85 47.85 462.41 48.53 461.24 48.78C460.06 49.03 458.96 48.85 457.87 49.01C456.79 49.16 455.65 49.73 454.73 49.69C453.80 49.64 452.95 49.28 452.32 48.75C451.69 48.22 451.33 47.35 450.93 46.52C450.53 45.69 450.03 44.77 449.92 43.77C449.80 42.77 450.27 41.46 450.22 40.50C450.18 39.54 449.84 38.95 449.63 38.01C449.42 37.07 449.23 35.88 448.95 34.85C448.68 33.83 448.11 32.93 447.98 31.86C447.84 30.78 448.26 29.59 448.12 28.38C447.98 27.17 447.15 25.70 447.13 24.62Z" fill="none" stroke="#6a3028" stroke-width="3" filter="url(#tb2)" opacity="0.3"/>
</g>
<g clip-path="url(#tc3)">
<rect x="510" y="12" width="38" height="36" fill="#984c42"/>
<g filter="url(#tb)"><ellipse cx="524" cy="29" rx="4.5" ry="5.5" fill="#b08070"/><ellipse cx="540" cy="30" rx="5" ry="6" fill="#b86a5a"/><ellipse cx="522" cy="42" rx="7" ry="4" fill="#96362e"/></g>
<g filter="url(#tb2)"><circle cx="517.5" cy="40" r="1.3" fill="#e0c080"/><path d="M513 22 Q516 19 518 22 L516 30 Z" fill="#d0b8a8"/></g>
<rect x="510" y="12" width="38" height="36" fill="#000" filter="url(#tnz2)" opacity="0.4"/>
<rect x="510" y="12" width="38" height="36" fill="#000" filter="url(#tnz)" opacity="0.15"/>
<path d="M513.69 26.81C514.02 25.90 514.74 25.29 515.00 24.39C515.25 23.50 514.74 22.25 515.21 21.44C515.68 20.63 517.18 20.37 517.81 19.52C518.45 18.67 518.67 17.06 519.03 16.36C519.38 15.66 519.64 15.63 519.96 15.32C520.29 15.02 520.44 14.79 520.97 14.53C521.51 14.28 522.37 13.79 523.20 13.81C524.02 13.83 524.99 14.49 525.93 14.64C526.88 14.79 527.91 14.47 528.89 14.72C529.87 14.97 530.92 15.65 531.82 16.13C532.71 16.61 533.39 17.19 534.27 17.60C535.14 18.00 536.09 18.16 537.08 18.59C538.07 19.02 539.42 19.45 540.20 20.17C540.97 20.89 541.11 22.15 541.73 22.93C542.35 23.70 543.10 24.20 543.92 24.83C544.75 25.47 546.05 25.97 546.69 26.71C547.34 27.46 547.63 28.45 547.79 29.32C547.95 30.19 547.89 31.17 547.64 31.94C547.39 32.71 546.52 33.21 546.29 33.95C546.05 34.68 546.84 35.90 546.24 36.36C545.63 36.82 543.37 36.37 542.64 36.73C541.90 37.08 542.54 38.38 541.83 38.48C541.13 38.59 539.44 37.68 538.41 37.38C537.39 37.07 536.46 36.53 535.67 36.64C534.89 36.75 534.33 37.52 533.70 38.05C533.07 38.59 532.60 39.16 531.89 39.87C531.17 40.58 530.27 41.84 529.44 42.31C528.61 42.79 527.86 42.32 526.90 42.73C525.94 43.13 524.74 44.17 523.67 44.73C522.60 45.29 521.34 46.07 520.50 46.11C519.67 46.14 519.35 45.20 518.67 44.91C517.99 44.63 516.91 45.01 516.42 44.40C515.94 43.78 516.08 42.17 515.77 41.22C515.46 40.28 514.92 39.63 514.56 38.73C514.20 37.84 514.03 36.81 513.61 35.86C513.18 34.91 512.13 34.02 512.02 33.02C511.92 32.02 512.71 30.89 512.99 29.85C513.27 28.82 513.35 27.72 513.69 26.81Z" fill="none" stroke="#6a3028" stroke-width="3" filter="url(#tb2)" opacity="0.3"/>
</g>
<g clip-path="url(#tc4)">
<rect x="575" y="14" width="42" height="36" fill="#a65a4a"/>
<g filter="url(#tb)"><ellipse cx="590" cy="30" rx="9" ry="9" fill="#a85a4c"/><ellipse cx="606" cy="33" rx="5" ry="6" fill="#bf8070"/><ellipse cx="594" cy="43" rx="7" ry="4" fill="#a44c44"/></g>
<g filter="url(#tb2)"><ellipse cx="590" cy="22" rx="2.5" ry="1.5" fill="#c03838"/></g>
<rect x="575" y="14" width="42" height="36" fill="#000" filter="url(#tnz2)" opacity="0.45"/>
<rect x="575" y="14" width="42" height="36" fill="#000" filter="url(#tnz)" opacity="0.15"/>
<path d="M577.41 28.83C577.53 27.81 577.99 26.78 578.33 25.80C578.67 24.82 579.14 23.90 579.45 22.95C579.76 22.01 579.58 20.76 580.19 20.13C580.80 19.49 582.21 19.58 583.11 19.13C584.01 18.69 584.72 18.00 585.61 17.44C586.50 16.87 587.30 15.75 588.44 15.75C589.59 15.74 591.23 17.23 592.48 17.41C593.73 17.59 594.85 16.73 595.96 16.83C597.06 16.93 598.14 17.45 599.11 18.02C600.08 18.59 600.95 19.71 601.78 20.25C602.61 20.78 603.30 20.88 604.10 21.24C604.89 21.59 605.87 22.08 606.57 22.37C607.27 22.65 607.59 22.83 608.30 22.92C609.00 23.02 610.30 22.53 610.78 22.91C611.25 23.29 610.87 24.54 611.17 25.20C611.47 25.87 612.42 26.27 612.57 26.90C612.72 27.53 612.09 28.31 612.08 28.97C612.07 29.63 612.57 30.40 612.51 30.89C612.45 31.37 612.20 31.54 611.71 31.89C611.22 32.23 609.95 32.33 609.56 32.96C609.17 33.59 609.60 34.80 609.36 35.64C609.13 36.49 608.45 37.16 608.17 38.04C607.89 38.93 608.10 40.17 607.70 40.96C607.30 41.75 606.40 42.20 605.78 42.80C605.17 43.39 604.59 43.90 604.01 44.54C603.43 45.19 603.11 46.39 602.30 46.68C601.49 46.97 600.22 46.52 599.17 46.27C598.11 46.03 596.90 45.24 595.95 45.22C595.00 45.21 594.32 45.71 593.48 46.18C592.63 46.65 591.66 47.68 590.90 48.06C590.14 48.45 589.59 48.32 588.91 48.50C588.24 48.68 587.61 49.17 586.83 49.15C586.05 49.14 584.92 48.93 584.26 48.41C583.60 47.88 583.44 46.70 582.88 46.00C582.33 45.31 581.44 44.99 580.94 44.25C580.43 43.51 580.02 42.63 579.85 41.57C579.68 40.51 580.21 38.97 579.91 37.87C579.61 36.77 578.46 35.99 578.07 34.99C577.69 34.00 577.73 32.95 577.61 31.92C577.50 30.90 577.29 29.85 577.41 28.83Z" fill="none" stroke="#6a3028" stroke-width="3" filter="url(#tb2)" opacity="0.3"/>
</g>
<ellipse cx="399.8" cy="92.7" rx="3.0" ry="2.2" fill="#985638" transform="rotate(-15 399.8 92.7)"/>
<ellipse cx="463.1" cy="94" rx="3.5" ry="2.6" fill="#985638" transform="rotate(-20 463.1 94)"/>
<path d="M526 95.5C526 92.5 530 91.2 533.5 91.6C534.5 92.5 534.3 95 532.5 95.2C531 94.5 529 94.6 527.5 96.4C526.6 96.8 526 96.4 526 95.5Z" fill="#9a5838"/>
<ellipse cx="593.8" cy="95" rx="3.9" ry="3.2" fill="#a05e3c"/>
<text x="347.40" y="160.29" font-size="10.3" text-anchor="start" font-weight="bold" fill="#000" textLength="5.2" lengthAdjust="spacingAndGlyphs" stroke="#000" stroke-width="0.55" >E</text>
<line x1="393.00" y1="162.80" x2="393.00" y2="366.60" stroke="#d9d9d9" stroke-width="0.8" />
<line x1="393.00" y1="366.60" x2="659.00" y2="366.60" stroke="#d9d9d9" stroke-width="0.8" />
<text x="387.20" y="369.39" font-size="7.8" text-anchor="end" font-weight="bold" fill="#1a1a1a" stroke="#1a1a1a" stroke-width="0.15" >0.00</text>
<line x1="393.00" y1="346.24" x2="659.00" y2="346.24" stroke="#d9d9d9" stroke-width="0.8" />
<text x="387.20" y="349.03" font-size="7.8" text-anchor="end" font-weight="bold" fill="#1a1a1a" stroke="#1a1a1a" stroke-width="0.15" >500.00</text>
<line x1="393.00" y1="325.88" x2="659.00" y2="325.88" stroke="#d9d9d9" stroke-width="0.8" />
<text x="387.20" y="328.67" font-size="7.8" text-anchor="end" font-weight="bold" fill="#1a1a1a" stroke="#1a1a1a" stroke-width="0.15" >1000.00</text>
<line x1="393.00" y1="305.52" x2="659.00" y2="305.52" stroke="#d9d9d9" stroke-width="0.8" />
<text x="387.20" y="308.31" font-size="7.8" text-anchor="end" font-weight="bold" fill="#1a1a1a" stroke="#1a1a1a" stroke-width="0.15" >1500.00</text>
<line x1="393.00" y1="285.16" x2="659.00" y2="285.16" stroke="#d9d9d9" stroke-width="0.8" />
<text x="387.20" y="287.95" font-size="7.8" text-anchor="end" font-weight="bold" fill="#1a1a1a" stroke="#1a1a1a" stroke-width="0.15" >2000.00</text>
<line x1="393.00" y1="264.80" x2="659.00" y2="264.80" stroke="#d9d9d9" stroke-width="0.8" />
<text x="387.20" y="267.59" font-size="7.8" text-anchor="end" font-weight="bold" fill="#1a1a1a" stroke="#1a1a1a" stroke-width="0.15" >2500.00</text>
<line x1="393.00" y1="244.44" x2="659.00" y2="244.44" stroke="#d9d9d9" stroke-width="0.8" />
<text x="387.20" y="247.23" font-size="7.8" text-anchor="end" font-weight="bold" fill="#1a1a1a" stroke="#1a1a1a" stroke-width="0.15" >3000.00</text>
<line x1="393.00" y1="224.08" x2="659.00" y2="224.08" stroke="#d9d9d9" stroke-width="0.8" />
<text x="387.20" y="226.87" font-size="7.8" text-anchor="end" font-weight="bold" fill="#1a1a1a" stroke="#1a1a1a" stroke-width="0.15" >3500.00</text>
<line x1="393.00" y1="203.72" x2="659.00" y2="203.72" stroke="#d9d9d9" stroke-width="0.8" />
<text x="387.20" y="206.51" font-size="7.8" text-anchor="end" font-weight="bold" fill="#1a1a1a" stroke="#1a1a1a" stroke-width="0.15" >4000.00</text>
<line x1="393.00" y1="183.36" x2="659.00" y2="183.36" stroke="#d9d9d9" stroke-width="0.8" />
<text x="387.20" y="186.15" font-size="7.8" text-anchor="end" font-weight="bold" fill="#1a1a1a" stroke="#1a1a1a" stroke-width="0.15" >4500.00</text>
<line x1="393.00" y1="163.00" x2="659.00" y2="163.00" stroke="#d9d9d9" stroke-width="0.8" />
<text x="387.20" y="165.79" font-size="7.8" text-anchor="end" font-weight="bold" fill="#1a1a1a" stroke="#1a1a1a" stroke-width="0.15" >5000.00</text>
<text x="346.40" y="268.10" font-size="9.5" text-anchor="middle" font-weight="bold" fill="#111" textLength="13" lengthAdjust="spacingAndGlyphs" transform="rotate(-90 346.40 264.70)" stroke="#111" stroke-width="0.15" >mg</text>
<line x1="435.40" y1="166.00" x2="435.40" y2="204.00" stroke="#659fd6" stroke-width="1" />
<line x1="435.40" y1="284.40" x2="435.40" y2="306.60" stroke="#659fd6" stroke-width="1" />
<line x1="429.60" y1="166.00" x2="441.20" y2="166.00" stroke="#659fd6" stroke-width="1" />
<line x1="429.60" y1="306.60" x2="441.20" y2="306.60" stroke="#659fd6" stroke-width="1" />
<rect x="415.80" y="204.00" width="39.20" height="80.40" fill="#659fd6" stroke="#4f8ac0" stroke-width="0.8"/>
<line x1="415.80" y1="220.00" x2="455.00" y2="220.00" stroke="#4f8ac0" stroke-width="0.9" />
<path d="M432.30 234.90L438.50 241.10M438.50 234.90L432.30 241.10" stroke="#4375a3" stroke-width="0.85" fill="none"/>
<line x1="479.90" y1="349.00" x2="479.90" y2="354.00" stroke="#e97f38" stroke-width="1" />
<line x1="479.90" y1="360.00" x2="479.90" y2="361.40" stroke="#e97f38" stroke-width="1" />
<line x1="474.10" y1="349.00" x2="485.70" y2="349.00" stroke="#e97f38" stroke-width="1" />
<line x1="474.10" y1="361.40" x2="485.70" y2="361.40" stroke="#e97f38" stroke-width="1" />
<rect x="459.80" y="354.00" width="40.20" height="6.00" fill="#e97f38" stroke="#cf6a28" stroke-width="0.8"/>
<line x1="459.80" y1="357.20" x2="500.00" y2="357.20" stroke="#cf6a28" stroke-width="0.9" />
<path d="M476.80 353.90L483.00 360.10M483.00 353.90L476.80 360.10" stroke="#af5a22" stroke-width="0.85" fill="none"/>
<circle cx="479.90" cy="344.6" r="1.8" fill="#e97f38"/>
<line x1="524.90" y1="351.60" x2="524.90" y2="355.60" stroke="#a6a6a6" stroke-width="1" />
<line x1="524.90" y1="362.60" x2="524.90" y2="364.40" stroke="#a6a6a6" stroke-width="1" />
<line x1="519.10" y1="351.60" x2="530.70" y2="351.60" stroke="#a6a6a6" stroke-width="1" />
<line x1="519.10" y1="364.40" x2="530.70" y2="364.40" stroke="#a6a6a6" stroke-width="1" />
<rect x="504.80" y="355.60" width="40.20" height="7.00" fill="#a6a6a6" stroke="#8f8f8f" stroke-width="0.8"/>
<line x1="504.80" y1="359.00" x2="545.00" y2="359.00" stroke="#8f8f8f" stroke-width="0.9" />
<path d="M521.80 355.90L528.00 362.10M528.00 355.90L521.80 362.10" stroke="#797979" stroke-width="0.85" fill="none"/>
<line x1="569.60" y1="349.00" x2="569.60" y2="355.00" stroke="#eec22e" stroke-width="1" />
<line x1="569.60" y1="361.00" x2="569.60" y2="365.40" stroke="#eec22e" stroke-width="1" />
<line x1="563.80" y1="349.00" x2="575.40" y2="349.00" stroke="#eec22e" stroke-width="1" />
<line x1="563.80" y1="365.40" x2="575.40" y2="365.40" stroke="#eec22e" stroke-width="1" />
<rect x="549.60" y="355.00" width="40.00" height="6.00" fill="#eec22e" stroke="#d6ab1e" stroke-width="0.8"/>
<line x1="549.60" y1="358.00" x2="589.60" y2="358.00" stroke="#d6ab1e" stroke-width="0.9" />
<path d="M566.50 354.50L572.70 360.70M572.70 354.50L566.50 360.70" stroke="#b59119" stroke-width="0.85" fill="none"/>
<circle cx="569.60" cy="345.0" r="1.8" fill="#eec22e"/>
<line x1="614.00" y1="348.20" x2="614.00" y2="353.00" stroke="#5279c9" stroke-width="1" />
<line x1="614.00" y1="361.60" x2="614.00" y2="364.00" stroke="#5279c9" stroke-width="1" />
<line x1="608.20" y1="348.20" x2="619.80" y2="348.20" stroke="#5279c9" stroke-width="1" />
<line x1="608.20" y1="364.00" x2="619.80" y2="364.00" stroke="#5279c9" stroke-width="1" />
<rect x="593.80" y="353.00" width="40.40" height="8.60" fill="#5279c9" stroke="#4365b0" stroke-width="0.8"/>
<line x1="593.80" y1="357.40" x2="634.20" y2="357.40" stroke="#4365b0" stroke-width="0.9" />
<path d="M610.90 353.90L617.10 360.10M617.10 353.90L610.90 360.10" stroke="#385595" stroke-width="0.85" fill="none"/>
<text x="480.00" y="332.71" font-size="8.7" text-anchor="middle" font-weight="bold" fill="#1a1a1a" textLength="25" lengthAdjust="spacingAndGlyphs" stroke="#1a1a1a" stroke-width="0.15" >91.3%</text>
<text x="480.00" y="343.31" font-size="8.7" text-anchor="middle" font-weight="bold" fill="#1a1a1a" textLength="41" lengthAdjust="spacingAndGlyphs" stroke="#1a1a1a" stroke-width="0.15" >p=1.1E-12</text>
<text x="525.00" y="332.71" font-size="8.7" text-anchor="middle" font-weight="bold" fill="#1a1a1a" textLength="25" lengthAdjust="spacingAndGlyphs" stroke="#1a1a1a" stroke-width="0.15" >94.1%</text>
<text x="525.00" y="343.31" font-size="8.7" text-anchor="middle" font-weight="bold" fill="#1a1a1a" textLength="41" lengthAdjust="spacingAndGlyphs" stroke="#1a1a1a" stroke-width="0.15" >p=4.5E-11</text>
<text x="569.40" y="332.71" font-size="8.7" text-anchor="middle" font-weight="bold" fill="#1a1a1a" textLength="25" lengthAdjust="spacingAndGlyphs" stroke="#1a1a1a" stroke-width="0.15" >92.4%</text>
<text x="569.40" y="343.31" font-size="8.7" text-anchor="middle" font-weight="bold" fill="#1a1a1a" textLength="40.4" lengthAdjust="spacingAndGlyphs" stroke="#1a1a1a" stroke-width="0.15" >p=3.2E-14</text>
<text x="613.60" y="332.71" font-size="8.7" text-anchor="middle" font-weight="bold" fill="#1a1a1a" textLength="25" lengthAdjust="spacingAndGlyphs" stroke="#1a1a1a" stroke-width="0.15" >92.1%</text>
<text x="613.60" y="343.31" font-size="8.7" text-anchor="middle" font-weight="bold" fill="#1a1a1a" textLength="41" lengthAdjust="spacingAndGlyphs" stroke="#1a1a1a" stroke-width="0.15" >p=2.99E-8</text>
<rect x="370.40" y="384.20" width="7.20" height="7.00" fill="#5b9bd5" />
<text x="378.00" y="390.52" font-size="7.6" text-anchor="start" font-weight="bold" fill="#222" textLength="17.4" lengthAdjust="spacingAndGlyphs" stroke="#222" stroke-width="0.15" >sgV0</text>
<rect x="401.00" y="384.20" width="7.20" height="7.00" fill="#ed7d31" />
<text x="409.40" y="390.52" font-size="7.6" text-anchor="start" font-weight="bold" fill="#222" textLength="37.6" lengthAdjust="spacingAndGlyphs" stroke="#222" stroke-width="0.15" >sgSESN3_</text>
<text x="428.20" y="399.32" font-size="7.6" text-anchor="middle" font-weight="bold" fill="#222" stroke="#222" stroke-width="0.15" >1</text>
<rect x="454.00" y="384.20" width="7.20" height="7.00" fill="#a5a5a5" />
<text x="463.00" y="390.52" font-size="7.6" text-anchor="start" font-weight="bold" fill="#222" textLength="37" lengthAdjust="spacingAndGlyphs" stroke="#222" stroke-width="0.15" >sgSESN3_</text>
<text x="481.50" y="399.32" font-size="7.6" text-anchor="middle" font-weight="bold" fill="#222" stroke="#222" stroke-width="0.15" >2</text>
<rect x="506.60" y="384.20" width="7.20" height="7.00" fill="#eec22e" />
<text x="517.00" y="390.52" font-size="7.6" text-anchor="start" font-weight="bold" fill="#222" textLength="33" lengthAdjust="spacingAndGlyphs" stroke="#222" stroke-width="0.15" >sgSESN3_</text>
<text x="533.50" y="399.32" font-size="7.6" text-anchor="middle" font-weight="bold" fill="#222" stroke="#222" stroke-width="0.15" >3</text>
<rect x="560.00" y="384.20" width="7.20" height="7.00" fill="#4f76c6" />
<text x="566.60" y="390.52" font-size="7.6" text-anchor="start" font-weight="bold" fill="#222" textLength="62.4" lengthAdjust="spacingAndGlyphs" stroke="#222" stroke-width="0.15" >sgSESN3_3+YWF</text>
<text x="354.00" y="422.26" font-size="10.5" text-anchor="start" font-weight="bold" fill="#000" textLength="5.2" lengthAdjust="spacingAndGlyphs" stroke="#000" stroke-width="0.4" >F</text>
<text x="356.90" y="473.58" font-size="10.0" text-anchor="middle" font-weight="bold" fill="#7a6a22" textLength="11.2" lengthAdjust="spacingAndGlyphs" stroke="#7a6a22" stroke-width="0.45" >α6</text>
<defs>
<filter id="spk1" x="0" y="0" width="100%" height="100%" color-interpolation-filters="sRGB">
<feTurbulence type="fractalNoise" baseFrequency="0.5" numOctaves="2" seed="7"/>
<feColorMatrix type="matrix" values="0 0 0 0 0.55  0 0 0 0 0.44  0 0 0 0 0.68  4.5 0 0 0 -2.25"/>
<feComposite in2="SourceGraphic" operator="in"/>
</filter>
<filter id="lsp" x="0" y="0" width="100%" height="100%" color-interpolation-filters="sRGB">
<feTurbulence type="fractalNoise" baseFrequency="0.6" numOctaves="1" seed="17"/>
<feColorMatrix type="matrix" values="0 0 0 0 0.9  0 0 0 0 0.62  0 0 0 0 0.42  0 4 0 0 -2.3"/>
<feComposite in2="SourceGraphic" operator="in"/>
</filter>
<filter id="nuc" x="0" y="0" width="100%" height="100%" color-interpolation-filters="sRGB">
<feTurbulence type="fractalNoise" baseFrequency="0.55" numOctaves="1" seed="11"/>
<feColorMatrix type="matrix" values="0 0 0 0 0.45  0 0 0 0 0.1  0 0 0 0 0.06  6 0 0 0 -3.5"/>
<feComposite in2="SourceGraphic" operator="in"/>
</filter>
<filter id="brd" x="0" y="0" width="100%" height="100%" color-interpolation-filters="sRGB">
<feTurbulence type="turbulence" baseFrequency="0.13" numOctaves="1" seed="4"/>
<feColorMatrix type="matrix" values="0 0 0 0 0.95  0 0 0 0 0.7  0 0 0 0 0.58  -12 0 0 0 1.0"/>
<feComposite in2="SourceGraphic" operator="in"/>
</filter>
<filter id="mot" x="0" y="0" width="100%" height="100%" color-interpolation-filters="sRGB">
<feTurbulence type="fractalNoise" baseFrequency="0.35" numOctaves="2" seed="2"/>
<feColorMatrix type="matrix" values="0 0 0 0 0.62  0 0 0 0 0.2  0 0 0 0 0.1  3.2 0 0 0 -1.45"/>
<feComposite in2="SourceGraphic" operator="in"/>
</filter>
<filter id="bl"><feGaussianBlur stdDeviation="0.45"/></filter>
<clipPath id="h1"><rect x="366.6" y="435.5" width="60.8" height="64.9"/></clipPath>
<clipPath id="h2"><rect x="431.2" y="435.5" width="60.4" height="64.9"/></clipPath>
<clipPath id="h3"><rect x="494.6" y="435.5" width="61.4" height="64.9"/></clipPath>
<clipPath id="h4"><rect x="559" y="435.5" width="60.6" height="64.9"/></clipPath>
<clipPath id="h5"><rect x="623" y="435.5" width="61" height="64.9"/></clipPath>
</defs>
<rect x="366.60" y="435.50" width="60.80" height="64.90" fill="#a4583a" />
<rect x="366.60" y="435.50" width="60.80" height="64.90" fill="#000" filter="url(#spk1)" opacity="0.7"/>
<rect x="366.60" y="435.50" width="60.80" height="64.90" fill="#000" filter="url(#lsp)" opacity="0.5"/>
<rect x="366.60" y="435.50" width="60.80" height="64.90" fill="#000" filter="url(#nuc)" opacity="0.3"/>
<rect x="431.20" y="435.50" width="60.40" height="64.90" fill="#c6602e" />
<rect x="431.20" y="435.50" width="60.40" height="64.90" fill="#000" filter="url(#mot)" opacity="0.65"/>
<rect x="431.20" y="435.50" width="60.40" height="64.90" fill="#000" filter="url(#brd)" opacity="0.7"/>
<rect x="431.20" y="435.50" width="60.40" height="64.90" fill="#000" filter="url(#nuc)"/>
<rect x="494.60" y="435.50" width="61.40" height="64.90" fill="#c45e2e" />
<rect x="494.60" y="435.50" width="61.40" height="64.90" fill="#000" filter="url(#mot)" opacity="0.65"/>
<rect x="494.60" y="435.50" width="61.40" height="64.90" fill="#000" filter="url(#brd)" opacity="0.7"/>
<rect x="494.60" y="435.50" width="61.40" height="64.90" fill="#000" filter="url(#nuc)"/>
<rect x="559.00" y="435.50" width="60.60" height="64.90" fill="#c25c2c" />
<rect x="559.00" y="435.50" width="60.60" height="64.90" fill="#000" filter="url(#mot)" opacity="0.65"/>
<rect x="559.00" y="435.50" width="60.60" height="64.90" fill="#000" filter="url(#brd)" opacity="0.7"/>
<rect x="559.00" y="435.50" width="60.60" height="64.90" fill="#000" filter="url(#nuc)"/>
<rect x="623.00" y="435.50" width="61.00" height="64.90" fill="#c6642f" />
<rect x="623.00" y="435.50" width="61.00" height="64.90" fill="#000" filter="url(#mot)" opacity="0.65"/>
<rect x="623.00" y="435.50" width="61.00" height="64.90" fill="#000" filter="url(#brd)" opacity="0.7"/>
<rect x="623.00" y="435.50" width="61.00" height="64.90" fill="#000" filter="url(#nuc)"/>
<defs><linearGradient id="pg" x1="1" y1="0" x2="0" y2="1"><stop offset="0" stop-color="#8a70a8" stop-opacity="0"/><stop offset="0.6" stop-color="#8a70a8" stop-opacity="0.12"/><stop offset="1" stop-color="#8a70a8" stop-opacity="0.35"/></linearGradient></defs>
<rect x="366.60" y="435.50" width="60.80" height="64.90" fill="url(#pg)" />
<filter id="bl3" color-interpolation-filters="sRGB"><feGaussianBlur stdDeviation="0.9"/></filter>
<g clip-path="url(#h1)" filter="url(#bl3)" fill="#d8c4d4" opacity="0.75">
<path d="M401.44 443.86L407.77 444.49L419.16 447.03L419.16 448.29L407.77 447.03L402.71 445.76Z"/>
<path d="M414.10 478.04L421.70 479.30L425.49 481.20L421.70 481.84L415.37 479.94Z"/>
<path d="M367.27 483.73L371.06 485.00L374.86 488.16L373.59 489.43L368.53 486.27L367.27 485.63Z"/>
</g>
<g clip-path="url(#h2)" filter="url(#bl)" fill="#faf6f6">
<path d="M430.00 447.66L437.59 446.39L440.13 448.29L443.92 441.96L448.35 440.70L449.62 444.87L444.56 447.91L440.76 452.72L435.06 453.73L430.00 452.47Z"/>
<path d="M444.56 463.10L452.15 460.06L457.22 455.00L462.91 453.35L466.08 456.27L461.01 459.68L455.95 462.22L452.15 466.01L445.82 466.65Z"/>
<path d="M430.00 466.01L437.59 465.38L442.66 468.16L448.35 471.08L450.89 476.77L448.35 482.47L443.29 481.20L441.14 474.87L436.33 472.47L430.00 472.72Z"/>
<path d="M442.66 468.16L445.19 465.38L446.46 466.65L444.18 469.18Z"/>
<path d="M430.00 489.43L435.06 490.70L436.33 495.76L432.53 497.03L430.00 494.49Z"/>
<path d="M454.05 491.96L460.38 490.70L464.18 495.76L461.65 500.82L455.32 500.82Z"/>
<path d="M475.57 476.77L483.16 478.04L480.63 481.84L474.30 479.94Z"/>
<path d="M480.63 445.13L484.43 442.59L485.70 446.39L481.90 447.66Z"/>
</g>
<g clip-path="url(#h3)" filter="url(#bl)" fill="none" stroke="#f0dcd0" stroke-width="0.9" opacity="0.85">
<path d="M518.05 446.39L523.11 447.66L526.91 451.46L531.97 456.52"/>
<path d="M514.25 464.11L519.32 472.97L526.91 467.91L535.77 465.38L542.10 460.32"/>
<path d="M519.32 475.51L526.91 483.10L534.51 485.63L539.57 488.16L542.10 495.76"/>
<path d="M501.59 442.59L509.19 445.13L512.99 440.06"/>
<path d="M506.66 488.16L512.99 494.49L524.38 498.29L529.44 500.82"/>
</g>
<g clip-path="url(#h4)" filter="url(#bl)" fill="#faf6f6">
<path d="M558.00 458.92L568.00 459.94L578.00 460.95L588.00 459.94L593.95 458.04L599.90 455.25L605.97 450.70L612.05 445.89L615.97 442.85L616.48 443.61L608.00 452.22L598.00 460.95L602.05 463.99L610.03 468.04L621.29 469.94L621.29 473.99L612.05 472.97L603.95 470.06L595.97 467.03L588.00 465.00L580.03 463.99L574.96 466.01L572.05 471.96L568.00 476.01L563.95 477.03L562.94 471.96L565.97 468.04L562.05 466.01L558.00 466.01Z"/>
<path d="M558.00 453.99L564.33 448.92L570.66 440.06L573.19 435.00L575.47 435.00L572.56 441.33L566.86 450.19L559.27 456.27L558.00 456.77Z"/>
<path d="M612.43 485.63L617.49 486.90L616.23 490.70L612.43 489.43Z"/>
<path d="M560.53 493.23L564.33 494.49L565.59 500.82L560.53 500.82Z" opacity="0.5"/>
<path d="M583.32 490.70L593.44 491.33L592.18 494.49L584.58 494.49Z" opacity="0.45"/>
</g>
<filter id="bl2" color-interpolation-filters="sRGB"><feGaussianBlur stdDeviation="1.6"/></filter>
<g clip-path="url(#h5)" filter="url(#bl2)">
<path d="M622.00 485.63L640.99 478.67L659.97 471.71L675.16 463.86L685.29 459.05L685.29 467.28L675.16 472.34L659.97 479.94L643.52 487.53L629.59 494.49L622.00 496.39Z" fill="#ecd2d2" opacity="0.8"/>
<path d="M630.86 497.03L637.19 494.49L642.25 497.03L644.78 500.82L629.59 500.82Z" fill="#faf6f6"/>
<path d="M622.00 462.85L629.59 464.11L633.39 467.91L627.06 466.65L622.00 466.01Z" fill="#ecd8d4"/>
<path d="M622.00 466.65L627.06 467.91L628.33 476.77L624.53 483.10L622.00 484.37Z" fill="#e8c8c0" opacity="0.5"/>
</g>
<text x="397.00" y="511.38" font-size="8.6" text-anchor="middle" font-weight="bold" fill="#111" textLength="16.5" lengthAdjust="spacingAndGlyphs" stroke="#111" stroke-width="0.4" >sgV0</text>
<text x="461.00" y="511.38" font-size="8.6" text-anchor="middle" font-weight="bold" fill="#111" textLength="38" lengthAdjust="spacingAndGlyphs" stroke="#111" stroke-width="0.4" >sgSESN3_1</text>
<text x="525.00" y="511.38" font-size="8.6" text-anchor="middle" font-weight="bold" fill="#111" textLength="38" lengthAdjust="spacingAndGlyphs" stroke="#111" stroke-width="0.4" >sgSESN3_2</text>
<text x="591.20" y="511.38" font-size="8.6" text-anchor="middle" font-weight="bold" fill="#111" textLength="38.4" lengthAdjust="spacingAndGlyphs" stroke="#111" stroke-width="0.4" >sgSESN3_3</text>
<text x="653.20" y="511.38" font-size="8.6" text-anchor="middle" font-weight="bold" fill="#111" textLength="38.4" lengthAdjust="spacingAndGlyphs" stroke="#111" stroke-width="0.4" >sgSESN3_3</text>
<text x="653.30" y="520.68" font-size="8.6" text-anchor="middle" font-weight="bold" fill="#111" textLength="19.4" lengthAdjust="spacingAndGlyphs" stroke="#111" stroke-width="0.4" >+YWF</text>
</svg>
</body></html>
